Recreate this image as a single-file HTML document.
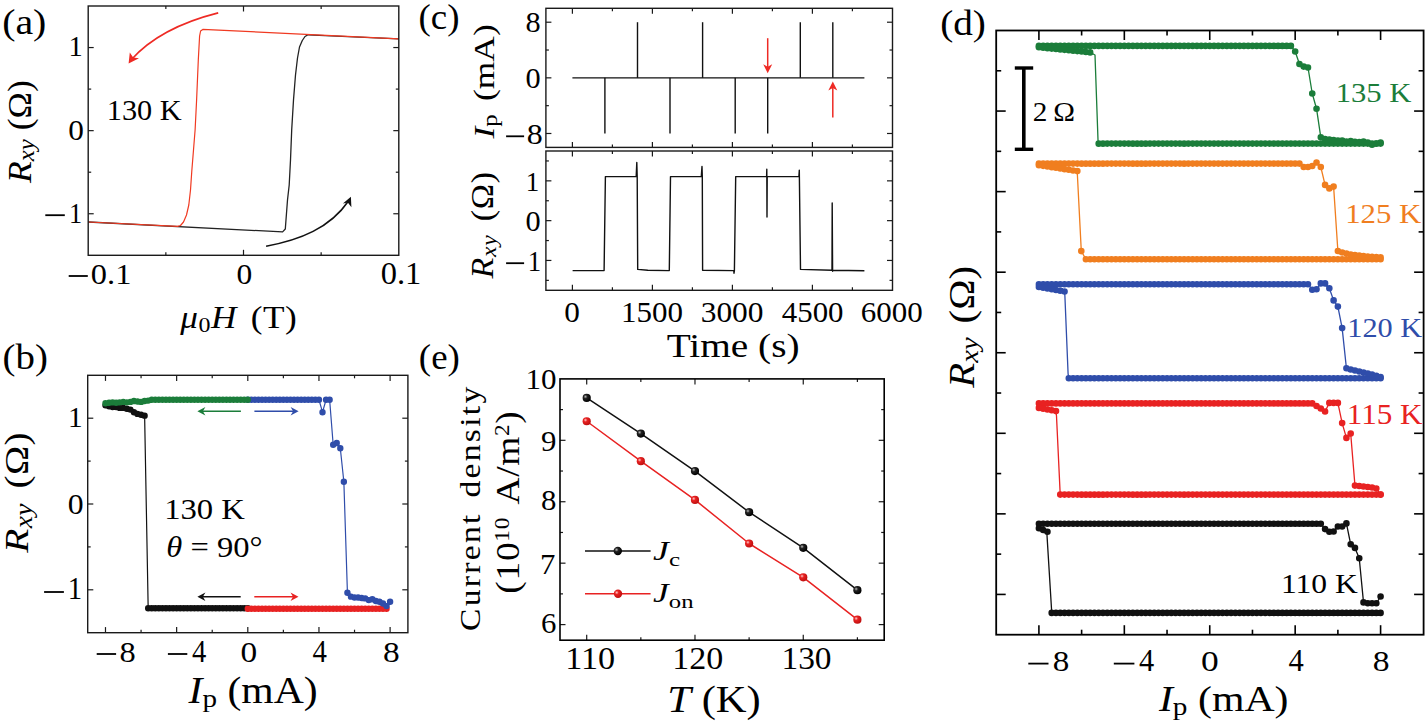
<!DOCTYPE html>
<html><head><meta charset="utf-8"><style>html,body{margin:0;padding:0;background:#fff;}svg{display:block;}</style></head>
<body>
<svg width="1425" height="727" viewBox="0 0 1425 727" font-family='"Liberation Serif", serif'>
<rect width="1425" height="727" fill="#fff"/>
<line x1="165.85" y1="255.3" x2="165.85" y2="252.3" stroke="#1a1a1a" stroke-width="1.2" />
<line x1="165.85" y1="6" x2="165.85" y2="9" stroke="#1a1a1a" stroke-width="1.2" />
<line x1="321.15" y1="255.3" x2="321.15" y2="252.3" stroke="#1a1a1a" stroke-width="1.2" />
<line x1="321.15" y1="6" x2="321.15" y2="9" stroke="#1a1a1a" stroke-width="1.2" />
<line x1="243.5" y1="255.3" x2="243.5" y2="249.8" stroke="#1a1a1a" stroke-width="1.2" />
<line x1="243.5" y1="6" x2="243.5" y2="11.5" stroke="#1a1a1a" stroke-width="1.2" />
<line x1="88.2" y1="213.75" x2="93.7" y2="213.75" stroke="#1a1a1a" stroke-width="1.2" />
<line x1="398.8" y1="213.75" x2="393.3" y2="213.75" stroke="#1a1a1a" stroke-width="1.2" />
<line x1="88.2" y1="130.65" x2="93.7" y2="130.65" stroke="#1a1a1a" stroke-width="1.2" />
<line x1="398.8" y1="130.65" x2="393.3" y2="130.65" stroke="#1a1a1a" stroke-width="1.2" />
<line x1="88.2" y1="47.55" x2="93.7" y2="47.55" stroke="#1a1a1a" stroke-width="1.2" />
<line x1="398.8" y1="47.55" x2="393.3" y2="47.55" stroke="#1a1a1a" stroke-width="1.2" />
<line x1="88.2" y1="172.2" x2="91.2" y2="172.2" stroke="#1a1a1a" stroke-width="1.2" />
<line x1="398.8" y1="172.2" x2="395.8" y2="172.2" stroke="#1a1a1a" stroke-width="1.2" />
<line x1="88.2" y1="89.1" x2="91.2" y2="89.1" stroke="#1a1a1a" stroke-width="1.2" />
<line x1="398.8" y1="89.1" x2="395.8" y2="89.1" stroke="#1a1a1a" stroke-width="1.2" />
<polyline points="88.4,222 282.6,231.9 285.3,229 287.5,200 289.2,185 290.5,160 291.7,130 293.5,100 295.5,75 297.5,58 299.5,47 302.3,40.5 305,36.5 308,34.8 398.9,38.8" fill="none" stroke="#222" stroke-width="1.3" stroke-linejoin="round" />
<polyline points="398.9,38.8 202.8,29.4 200.6,31 199.6,36 198.3,60 196.6,100 195.1,130 193.5,150 191.8,171 190.5,190 188.8,205 186.5,215 183.5,222 180.5,225.5 177.5,226.3 88.4,222" fill="none" stroke="#f03a22" stroke-width="1.2" stroke-linejoin="round" />
<path d="M218.2,12.9 C190,20 155,33 131,60" fill="none" stroke="#ee2a24" stroke-width="1.6"/>
<path d="M128.6,63.6 L129.8,52.6 L133.2,57.6 L139.0,58.2 Z" fill="#ee2a24"/>
<path d="M266.1,246.2 C300,240 330,228 348.5,201" fill="none" stroke="#111" stroke-width="1.6"/>
<path d="M350.9,196.8 L351.4,207.2 L347.8,202.6 L342.9,203.4 Z" fill="#111"/>
<rect x="88.2" y="6" width="310.6" height="249.3" fill="none" stroke="#1a1a1a" stroke-width="1.4"/>
<g transform="matrix(1.1378,0,0,1.0438,2.16,34.39)"><text x="0" y="0" font-size="35" fill="#000" >(a)</text></g>
<g transform="matrix(1.0182,0,0,1.0333,68.56,56.20)"><text x="0" y="0" font-size="28" fill="#000" >1</text></g>
<g transform="matrix(1.1167,0,0,1.0444,68.18,139.50)"><text x="0" y="0" font-size="28" fill="#000" >0</text></g>
<g transform="matrix(0.9364,0,0,1.0444,68.93,222.70)"><text x="0" y="0" font-size="28" fill="#000" >1</text></g>
<rect x="45.3" y="214.3" width="19.5" height="1.8" fill="#000"/>
<g transform="matrix(1.1576,0,0,1.0722,90.84,283.50)"><text x="0" y="0" font-size="28" fill="#000" >0.1</text></g>
<rect x="68.7" y="275.1" width="19.1" height="1.8" fill="#000"/>
<g transform="matrix(1.1250,0,0,1.0889,236.38,283.50)"><text x="0" y="0" font-size="28" fill="#000" >0</text></g>
<g transform="matrix(1.1606,0,0,1.1111,380.64,283.90)"><text x="0" y="0" font-size="28" fill="#000" >0.1</text></g>
<g transform="matrix(1.0282,0,0,1.0158,106.74,119.80)"><text x="0" y="0" font-size="29.5" fill="#000" >130 K</text></g>
<g transform="matrix(1.1363,0,0,1.0000,180.30,327.70)"><text x="0" y="0" font-size="31" fill="#000" word-spacing="3.72" letter-spacing="0.49"><tspan font-style="italic">μ</tspan><tspan font-size="21.1" dy="4.65">0</tspan><tspan dy="-4.65"><tspan font-style="italic">H</tspan> (T)</tspan></text></g>
<g transform="matrix(1.0964,0,0,1.1860,30.63,183.00)"><text x="0" y="0" font-size="30" fill="#000" transform="rotate(-90)" ><tspan font-style="italic">R</tspan><tspan font-size="21.0" dy="3.30" font-style="italic">xy</tspan><tspan dy="-3.30"> (Ω)</tspan></text></g>
<line x1="105.49" y1="632.7" x2="105.49" y2="627.1" stroke="#1a1a1a" stroke-width="1.2" />
<line x1="105.49" y1="375.3" x2="105.49" y2="380.9" stroke="#1a1a1a" stroke-width="1.2" />
<line x1="176.64" y1="632.7" x2="176.64" y2="627.1" stroke="#1a1a1a" stroke-width="1.2" />
<line x1="176.64" y1="375.3" x2="176.64" y2="380.9" stroke="#1a1a1a" stroke-width="1.2" />
<line x1="247.8" y1="632.7" x2="247.8" y2="627.1" stroke="#1a1a1a" stroke-width="1.2" />
<line x1="247.8" y1="375.3" x2="247.8" y2="380.9" stroke="#1a1a1a" stroke-width="1.2" />
<line x1="318.96" y1="632.7" x2="318.96" y2="627.1" stroke="#1a1a1a" stroke-width="1.2" />
<line x1="318.96" y1="375.3" x2="318.96" y2="380.9" stroke="#1a1a1a" stroke-width="1.2" />
<line x1="390.11" y1="632.7" x2="390.11" y2="627.1" stroke="#1a1a1a" stroke-width="1.2" />
<line x1="390.11" y1="375.3" x2="390.11" y2="380.9" stroke="#1a1a1a" stroke-width="1.2" />
<line x1="141.07" y1="632.7" x2="141.07" y2="629.7" stroke="#1a1a1a" stroke-width="1.2" />
<line x1="141.07" y1="375.3" x2="141.07" y2="378.3" stroke="#1a1a1a" stroke-width="1.2" />
<line x1="212.22" y1="632.7" x2="212.22" y2="629.7" stroke="#1a1a1a" stroke-width="1.2" />
<line x1="212.22" y1="375.3" x2="212.22" y2="378.3" stroke="#1a1a1a" stroke-width="1.2" />
<line x1="283.38" y1="632.7" x2="283.38" y2="629.7" stroke="#1a1a1a" stroke-width="1.2" />
<line x1="283.38" y1="375.3" x2="283.38" y2="378.3" stroke="#1a1a1a" stroke-width="1.2" />
<line x1="354.53" y1="632.7" x2="354.53" y2="629.7" stroke="#1a1a1a" stroke-width="1.2" />
<line x1="354.53" y1="375.3" x2="354.53" y2="378.3" stroke="#1a1a1a" stroke-width="1.2" />
<line x1="87.7" y1="589.8" x2="93.3" y2="589.8" stroke="#1a1a1a" stroke-width="1.2" />
<line x1="407.9" y1="589.8" x2="402.3" y2="589.8" stroke="#1a1a1a" stroke-width="1.2" />
<line x1="87.7" y1="504" x2="93.3" y2="504" stroke="#1a1a1a" stroke-width="1.2" />
<line x1="407.9" y1="504" x2="402.3" y2="504" stroke="#1a1a1a" stroke-width="1.2" />
<line x1="87.7" y1="418.2" x2="93.3" y2="418.2" stroke="#1a1a1a" stroke-width="1.2" />
<line x1="407.9" y1="418.2" x2="402.3" y2="418.2" stroke="#1a1a1a" stroke-width="1.2" />
<line x1="87.7" y1="546.9" x2="90.7" y2="546.9" stroke="#1a1a1a" stroke-width="1.2" />
<line x1="407.9" y1="546.9" x2="404.9" y2="546.9" stroke="#1a1a1a" stroke-width="1.2" />
<line x1="87.7" y1="461.1" x2="90.7" y2="461.1" stroke="#1a1a1a" stroke-width="1.2" />
<line x1="407.9" y1="461.1" x2="404.9" y2="461.1" stroke="#1a1a1a" stroke-width="1.2" />
<polyline points="105.49,405.33 109.05,406.19 112.6,407.05 116.16,407.05 119.72,407.9 123.28,407.9 126.84,408.76 130.39,409.62 133.95,412.19 137.51,413.91 141.07,414.77 144.62,415.63 148.18,608.25 151.74,608.25 155.3,608.25 158.86,608.25 162.41,608.25 165.97,608.25 169.53,608.25 173.09,608.25 176.64,608.25 180.2,608.25 183.76,608.25 187.32,608.25 190.88,608.25 194.43,608.25 197.99,608.25 201.55,608.25 205.11,608.25 208.66,608.25 212.22,608.25 215.78,608.25 219.34,608.25 222.9,608.25 226.45,608.25 230.01,608.25 233.57,608.25 237.13,608.25 240.68,608.25 244.24,608.25 247.8,608.25" fill="none" stroke="#111" stroke-width="1.2" stroke-linejoin="round" />
<polyline points="247.8,399.75 251.36,399.75 254.92,399.75 258.47,399.75 262.03,399.75 265.59,399.75 269.15,399.75 272.7,399.75 276.26,399.75 279.82,399.75 283.38,399.75 286.94,399.75 290.49,399.75 294.05,399.75 297.61,399.75 301.17,399.75 304.72,399.75 308.28,399.75 311.84,399.75 315.4,399.75 318.96,399.75 322.51,412.19 326.07,399.75 329.63,399.75 333.19,444.8 336.74,443.08 340.3,448.23 343.86,481.69 347.42,592.8 350.98,596.66 354.53,597.52 358.09,597.52 361.65,597.95 365.21,598.38 368.76,600.1 372.32,599.24 375.88,600.95 379.44,601.81 383,603.53 386.55,606.1 390.11,601.81" fill="none" stroke="#2f4daa" stroke-width="1.2" stroke-linejoin="round" />
<path d="M144.98,608.25a3.2,3.2 0 1,0 6.4,0a3.2,3.2 0 1,0 -6.4,0M148.54,608.25a3.2,3.2 0 1,0 6.4,0a3.2,3.2 0 1,0 -6.4,0M152.1,608.25a3.2,3.2 0 1,0 6.4,0a3.2,3.2 0 1,0 -6.4,0M155.66,608.25a3.2,3.2 0 1,0 6.4,0a3.2,3.2 0 1,0 -6.4,0M159.21,608.25a3.2,3.2 0 1,0 6.4,0a3.2,3.2 0 1,0 -6.4,0M162.77,608.25a3.2,3.2 0 1,0 6.4,0a3.2,3.2 0 1,0 -6.4,0M166.33,608.25a3.2,3.2 0 1,0 6.4,0a3.2,3.2 0 1,0 -6.4,0M169.89,608.25a3.2,3.2 0 1,0 6.4,0a3.2,3.2 0 1,0 -6.4,0M173.44,608.25a3.2,3.2 0 1,0 6.4,0a3.2,3.2 0 1,0 -6.4,0M177,608.25a3.2,3.2 0 1,0 6.4,0a3.2,3.2 0 1,0 -6.4,0M180.56,608.25a3.2,3.2 0 1,0 6.4,0a3.2,3.2 0 1,0 -6.4,0M184.12,608.25a3.2,3.2 0 1,0 6.4,0a3.2,3.2 0 1,0 -6.4,0M187.68,608.25a3.2,3.2 0 1,0 6.4,0a3.2,3.2 0 1,0 -6.4,0M191.23,608.25a3.2,3.2 0 1,0 6.4,0a3.2,3.2 0 1,0 -6.4,0M194.79,608.25a3.2,3.2 0 1,0 6.4,0a3.2,3.2 0 1,0 -6.4,0M198.35,608.25a3.2,3.2 0 1,0 6.4,0a3.2,3.2 0 1,0 -6.4,0M201.91,608.25a3.2,3.2 0 1,0 6.4,0a3.2,3.2 0 1,0 -6.4,0M205.46,608.25a3.2,3.2 0 1,0 6.4,0a3.2,3.2 0 1,0 -6.4,0M209.02,608.25a3.2,3.2 0 1,0 6.4,0a3.2,3.2 0 1,0 -6.4,0M212.58,608.25a3.2,3.2 0 1,0 6.4,0a3.2,3.2 0 1,0 -6.4,0M216.14,608.25a3.2,3.2 0 1,0 6.4,0a3.2,3.2 0 1,0 -6.4,0M219.7,608.25a3.2,3.2 0 1,0 6.4,0a3.2,3.2 0 1,0 -6.4,0M223.25,608.25a3.2,3.2 0 1,0 6.4,0a3.2,3.2 0 1,0 -6.4,0M226.81,608.25a3.2,3.2 0 1,0 6.4,0a3.2,3.2 0 1,0 -6.4,0M230.37,608.25a3.2,3.2 0 1,0 6.4,0a3.2,3.2 0 1,0 -6.4,0M233.93,608.25a3.2,3.2 0 1,0 6.4,0a3.2,3.2 0 1,0 -6.4,0M237.48,608.25a3.2,3.2 0 1,0 6.4,0a3.2,3.2 0 1,0 -6.4,0M241.04,608.25a3.2,3.2 0 1,0 6.4,0a3.2,3.2 0 1,0 -6.4,0M244.6,608.25a3.2,3.2 0 1,0 6.4,0a3.2,3.2 0 1,0 -6.4,0" fill="#111"/>
<path d="M244.6,608.68a3.2,3.2 0 1,0 6.4,0a3.2,3.2 0 1,0 -6.4,0M248.16,608.68a3.2,3.2 0 1,0 6.4,0a3.2,3.2 0 1,0 -6.4,0M251.72,608.68a3.2,3.2 0 1,0 6.4,0a3.2,3.2 0 1,0 -6.4,0M255.27,608.68a3.2,3.2 0 1,0 6.4,0a3.2,3.2 0 1,0 -6.4,0M258.83,608.68a3.2,3.2 0 1,0 6.4,0a3.2,3.2 0 1,0 -6.4,0M262.39,608.68a3.2,3.2 0 1,0 6.4,0a3.2,3.2 0 1,0 -6.4,0M265.95,608.68a3.2,3.2 0 1,0 6.4,0a3.2,3.2 0 1,0 -6.4,0M269.5,608.68a3.2,3.2 0 1,0 6.4,0a3.2,3.2 0 1,0 -6.4,0M273.06,608.68a3.2,3.2 0 1,0 6.4,0a3.2,3.2 0 1,0 -6.4,0M276.62,608.68a3.2,3.2 0 1,0 6.4,0a3.2,3.2 0 1,0 -6.4,0M280.18,608.68a3.2,3.2 0 1,0 6.4,0a3.2,3.2 0 1,0 -6.4,0M283.74,608.68a3.2,3.2 0 1,0 6.4,0a3.2,3.2 0 1,0 -6.4,0M287.29,608.68a3.2,3.2 0 1,0 6.4,0a3.2,3.2 0 1,0 -6.4,0M290.85,608.68a3.2,3.2 0 1,0 6.4,0a3.2,3.2 0 1,0 -6.4,0M294.41,608.68a3.2,3.2 0 1,0 6.4,0a3.2,3.2 0 1,0 -6.4,0M297.97,608.68a3.2,3.2 0 1,0 6.4,0a3.2,3.2 0 1,0 -6.4,0M301.52,608.68a3.2,3.2 0 1,0 6.4,0a3.2,3.2 0 1,0 -6.4,0M305.08,608.68a3.2,3.2 0 1,0 6.4,0a3.2,3.2 0 1,0 -6.4,0M308.64,608.68a3.2,3.2 0 1,0 6.4,0a3.2,3.2 0 1,0 -6.4,0M312.2,608.68a3.2,3.2 0 1,0 6.4,0a3.2,3.2 0 1,0 -6.4,0M315.76,608.68a3.2,3.2 0 1,0 6.4,0a3.2,3.2 0 1,0 -6.4,0M319.31,608.68a3.2,3.2 0 1,0 6.4,0a3.2,3.2 0 1,0 -6.4,0M322.87,608.68a3.2,3.2 0 1,0 6.4,0a3.2,3.2 0 1,0 -6.4,0M326.43,608.68a3.2,3.2 0 1,0 6.4,0a3.2,3.2 0 1,0 -6.4,0M329.99,608.68a3.2,3.2 0 1,0 6.4,0a3.2,3.2 0 1,0 -6.4,0M333.54,608.68a3.2,3.2 0 1,0 6.4,0a3.2,3.2 0 1,0 -6.4,0M337.1,608.68a3.2,3.2 0 1,0 6.4,0a3.2,3.2 0 1,0 -6.4,0M340.66,608.68a3.2,3.2 0 1,0 6.4,0a3.2,3.2 0 1,0 -6.4,0M344.22,608.68a3.2,3.2 0 1,0 6.4,0a3.2,3.2 0 1,0 -6.4,0M347.78,608.68a3.2,3.2 0 1,0 6.4,0a3.2,3.2 0 1,0 -6.4,0M351.33,608.68a3.2,3.2 0 1,0 6.4,0a3.2,3.2 0 1,0 -6.4,0M354.89,608.68a3.2,3.2 0 1,0 6.4,0a3.2,3.2 0 1,0 -6.4,0M358.45,608.68a3.2,3.2 0 1,0 6.4,0a3.2,3.2 0 1,0 -6.4,0M362.01,608.68a3.2,3.2 0 1,0 6.4,0a3.2,3.2 0 1,0 -6.4,0M365.56,608.68a3.2,3.2 0 1,0 6.4,0a3.2,3.2 0 1,0 -6.4,0M369.12,608.68a3.2,3.2 0 1,0 6.4,0a3.2,3.2 0 1,0 -6.4,0M372.68,608.68a3.2,3.2 0 1,0 6.4,0a3.2,3.2 0 1,0 -6.4,0M376.24,608.68a3.2,3.2 0 1,0 6.4,0a3.2,3.2 0 1,0 -6.4,0M379.8,608.68a3.2,3.2 0 1,0 6.4,0a3.2,3.2 0 1,0 -6.4,0M383.35,608.68a3.2,3.2 0 1,0 6.4,0a3.2,3.2 0 1,0 -6.4,0" fill="#e82222"/>
<path d="M102.29,405.33a3.2,3.2 0 1,0 6.4,0a3.2,3.2 0 1,0 -6.4,0M105.85,406.19a3.2,3.2 0 1,0 6.4,0a3.2,3.2 0 1,0 -6.4,0M109.4,407.05a3.2,3.2 0 1,0 6.4,0a3.2,3.2 0 1,0 -6.4,0M112.96,407.05a3.2,3.2 0 1,0 6.4,0a3.2,3.2 0 1,0 -6.4,0M116.52,407.9a3.2,3.2 0 1,0 6.4,0a3.2,3.2 0 1,0 -6.4,0M120.08,407.9a3.2,3.2 0 1,0 6.4,0a3.2,3.2 0 1,0 -6.4,0M123.64,408.76a3.2,3.2 0 1,0 6.4,0a3.2,3.2 0 1,0 -6.4,0M127.19,409.62a3.2,3.2 0 1,0 6.4,0a3.2,3.2 0 1,0 -6.4,0M130.75,412.19a3.2,3.2 0 1,0 6.4,0a3.2,3.2 0 1,0 -6.4,0M134.31,413.91a3.2,3.2 0 1,0 6.4,0a3.2,3.2 0 1,0 -6.4,0M137.87,414.77a3.2,3.2 0 1,0 6.4,0a3.2,3.2 0 1,0 -6.4,0M141.42,415.63a3.2,3.2 0 1,0 6.4,0a3.2,3.2 0 1,0 -6.4,0" fill="#111"/>
<path d="M244.6,399.75a3.2,3.2 0 1,0 6.4,0a3.2,3.2 0 1,0 -6.4,0M248.16,399.75a3.2,3.2 0 1,0 6.4,0a3.2,3.2 0 1,0 -6.4,0M251.72,399.75a3.2,3.2 0 1,0 6.4,0a3.2,3.2 0 1,0 -6.4,0M255.27,399.75a3.2,3.2 0 1,0 6.4,0a3.2,3.2 0 1,0 -6.4,0M258.83,399.75a3.2,3.2 0 1,0 6.4,0a3.2,3.2 0 1,0 -6.4,0M262.39,399.75a3.2,3.2 0 1,0 6.4,0a3.2,3.2 0 1,0 -6.4,0M265.95,399.75a3.2,3.2 0 1,0 6.4,0a3.2,3.2 0 1,0 -6.4,0M269.5,399.75a3.2,3.2 0 1,0 6.4,0a3.2,3.2 0 1,0 -6.4,0M273.06,399.75a3.2,3.2 0 1,0 6.4,0a3.2,3.2 0 1,0 -6.4,0M276.62,399.75a3.2,3.2 0 1,0 6.4,0a3.2,3.2 0 1,0 -6.4,0M280.18,399.75a3.2,3.2 0 1,0 6.4,0a3.2,3.2 0 1,0 -6.4,0M283.74,399.75a3.2,3.2 0 1,0 6.4,0a3.2,3.2 0 1,0 -6.4,0M287.29,399.75a3.2,3.2 0 1,0 6.4,0a3.2,3.2 0 1,0 -6.4,0M290.85,399.75a3.2,3.2 0 1,0 6.4,0a3.2,3.2 0 1,0 -6.4,0M294.41,399.75a3.2,3.2 0 1,0 6.4,0a3.2,3.2 0 1,0 -6.4,0M297.97,399.75a3.2,3.2 0 1,0 6.4,0a3.2,3.2 0 1,0 -6.4,0M301.52,399.75a3.2,3.2 0 1,0 6.4,0a3.2,3.2 0 1,0 -6.4,0M305.08,399.75a3.2,3.2 0 1,0 6.4,0a3.2,3.2 0 1,0 -6.4,0M308.64,399.75a3.2,3.2 0 1,0 6.4,0a3.2,3.2 0 1,0 -6.4,0M312.2,399.75a3.2,3.2 0 1,0 6.4,0a3.2,3.2 0 1,0 -6.4,0M315.76,399.75a3.2,3.2 0 1,0 6.4,0a3.2,3.2 0 1,0 -6.4,0M319.31,412.19a3.2,3.2 0 1,0 6.4,0a3.2,3.2 0 1,0 -6.4,0M322.87,399.75a3.2,3.2 0 1,0 6.4,0a3.2,3.2 0 1,0 -6.4,0M326.43,399.75a3.2,3.2 0 1,0 6.4,0a3.2,3.2 0 1,0 -6.4,0M329.99,444.8a3.2,3.2 0 1,0 6.4,0a3.2,3.2 0 1,0 -6.4,0M333.54,443.08a3.2,3.2 0 1,0 6.4,0a3.2,3.2 0 1,0 -6.4,0M337.1,448.23a3.2,3.2 0 1,0 6.4,0a3.2,3.2 0 1,0 -6.4,0M340.66,481.69a3.2,3.2 0 1,0 6.4,0a3.2,3.2 0 1,0 -6.4,0M344.22,592.8a3.2,3.2 0 1,0 6.4,0a3.2,3.2 0 1,0 -6.4,0M347.78,596.66a3.2,3.2 0 1,0 6.4,0a3.2,3.2 0 1,0 -6.4,0M351.33,597.52a3.2,3.2 0 1,0 6.4,0a3.2,3.2 0 1,0 -6.4,0M354.89,597.52a3.2,3.2 0 1,0 6.4,0a3.2,3.2 0 1,0 -6.4,0M358.45,597.95a3.2,3.2 0 1,0 6.4,0a3.2,3.2 0 1,0 -6.4,0M362.01,598.38a3.2,3.2 0 1,0 6.4,0a3.2,3.2 0 1,0 -6.4,0M365.56,600.1a3.2,3.2 0 1,0 6.4,0a3.2,3.2 0 1,0 -6.4,0M369.12,599.24a3.2,3.2 0 1,0 6.4,0a3.2,3.2 0 1,0 -6.4,0M372.68,600.95a3.2,3.2 0 1,0 6.4,0a3.2,3.2 0 1,0 -6.4,0M376.24,601.81a3.2,3.2 0 1,0 6.4,0a3.2,3.2 0 1,0 -6.4,0M379.8,603.53a3.2,3.2 0 1,0 6.4,0a3.2,3.2 0 1,0 -6.4,0M383.35,606.1a3.2,3.2 0 1,0 6.4,0a3.2,3.2 0 1,0 -6.4,0M386.91,601.81a3.2,3.2 0 1,0 6.4,0a3.2,3.2 0 1,0 -6.4,0" fill="#2f4daa"/>
<path d="M102.29,403.19a3.2,3.2 0 1,0 6.4,0a3.2,3.2 0 1,0 -6.4,0M105.85,402.76a3.2,3.2 0 1,0 6.4,0a3.2,3.2 0 1,0 -6.4,0M109.4,402.33a3.2,3.2 0 1,0 6.4,0a3.2,3.2 0 1,0 -6.4,0M112.96,402.76a3.2,3.2 0 1,0 6.4,0a3.2,3.2 0 1,0 -6.4,0M116.52,402.33a3.2,3.2 0 1,0 6.4,0a3.2,3.2 0 1,0 -6.4,0M120.08,401.9a3.2,3.2 0 1,0 6.4,0a3.2,3.2 0 1,0 -6.4,0M123.64,402.33a3.2,3.2 0 1,0 6.4,0a3.2,3.2 0 1,0 -6.4,0M127.19,401.9a3.2,3.2 0 1,0 6.4,0a3.2,3.2 0 1,0 -6.4,0M130.75,401.04a3.2,3.2 0 1,0 6.4,0a3.2,3.2 0 1,0 -6.4,0M134.31,401.47a3.2,3.2 0 1,0 6.4,0a3.2,3.2 0 1,0 -6.4,0M137.87,401.9a3.2,3.2 0 1,0 6.4,0a3.2,3.2 0 1,0 -6.4,0M141.42,401.04a3.2,3.2 0 1,0 6.4,0a3.2,3.2 0 1,0 -6.4,0M144.98,400.61a3.2,3.2 0 1,0 6.4,0a3.2,3.2 0 1,0 -6.4,0M148.54,399.75a3.2,3.2 0 1,0 6.4,0a3.2,3.2 0 1,0 -6.4,0M152.1,399.75a3.2,3.2 0 1,0 6.4,0a3.2,3.2 0 1,0 -6.4,0M155.66,399.75a3.2,3.2 0 1,0 6.4,0a3.2,3.2 0 1,0 -6.4,0M159.21,399.75a3.2,3.2 0 1,0 6.4,0a3.2,3.2 0 1,0 -6.4,0M162.77,399.75a3.2,3.2 0 1,0 6.4,0a3.2,3.2 0 1,0 -6.4,0M166.33,399.75a3.2,3.2 0 1,0 6.4,0a3.2,3.2 0 1,0 -6.4,0M169.89,399.75a3.2,3.2 0 1,0 6.4,0a3.2,3.2 0 1,0 -6.4,0M173.44,399.75a3.2,3.2 0 1,0 6.4,0a3.2,3.2 0 1,0 -6.4,0M177,399.75a3.2,3.2 0 1,0 6.4,0a3.2,3.2 0 1,0 -6.4,0M180.56,399.75a3.2,3.2 0 1,0 6.4,0a3.2,3.2 0 1,0 -6.4,0M184.12,399.75a3.2,3.2 0 1,0 6.4,0a3.2,3.2 0 1,0 -6.4,0M187.68,399.75a3.2,3.2 0 1,0 6.4,0a3.2,3.2 0 1,0 -6.4,0M191.23,399.75a3.2,3.2 0 1,0 6.4,0a3.2,3.2 0 1,0 -6.4,0M194.79,399.75a3.2,3.2 0 1,0 6.4,0a3.2,3.2 0 1,0 -6.4,0M198.35,399.75a3.2,3.2 0 1,0 6.4,0a3.2,3.2 0 1,0 -6.4,0M201.91,399.75a3.2,3.2 0 1,0 6.4,0a3.2,3.2 0 1,0 -6.4,0M205.46,399.75a3.2,3.2 0 1,0 6.4,0a3.2,3.2 0 1,0 -6.4,0M209.02,399.75a3.2,3.2 0 1,0 6.4,0a3.2,3.2 0 1,0 -6.4,0M212.58,399.75a3.2,3.2 0 1,0 6.4,0a3.2,3.2 0 1,0 -6.4,0M216.14,399.75a3.2,3.2 0 1,0 6.4,0a3.2,3.2 0 1,0 -6.4,0M219.7,399.75a3.2,3.2 0 1,0 6.4,0a3.2,3.2 0 1,0 -6.4,0M223.25,399.75a3.2,3.2 0 1,0 6.4,0a3.2,3.2 0 1,0 -6.4,0M226.81,399.75a3.2,3.2 0 1,0 6.4,0a3.2,3.2 0 1,0 -6.4,0M230.37,399.75a3.2,3.2 0 1,0 6.4,0a3.2,3.2 0 1,0 -6.4,0M233.93,399.75a3.2,3.2 0 1,0 6.4,0a3.2,3.2 0 1,0 -6.4,0M237.48,399.75a3.2,3.2 0 1,0 6.4,0a3.2,3.2 0 1,0 -6.4,0M241.04,399.75a3.2,3.2 0 1,0 6.4,0a3.2,3.2 0 1,0 -6.4,0M244.6,399.75a3.2,3.2 0 1,0 6.4,0a3.2,3.2 0 1,0 -6.4,0" fill="#1b7d3a"/>
<line x1="240.9" y1="411.3" x2="202.4" y2="411.3" stroke="#1b7d3a" stroke-width="1.4" />
<path d="M197.4,411.3 L205.4,407.1 L202.9,411.3 L205.4,415.5 Z" fill="#1b7d3a"/>
<line x1="254.4" y1="411.3" x2="293.6" y2="411.3" stroke="#2f4daa" stroke-width="1.4" />
<path d="M298.6,411.3 L290.6,407.1 L293.1,411.3 L290.6,415.5 Z" fill="#2f4daa"/>
<line x1="240.7" y1="596.8" x2="202.4" y2="596.8" stroke="#111" stroke-width="1.4" />
<path d="M197.4,596.8 L205.4,592.6 L202.9,596.8 L205.4,601 Z" fill="#111"/>
<line x1="254.3" y1="596.8" x2="293.5" y2="596.8" stroke="#e82222" stroke-width="1.4" />
<path d="M298.5,596.8 L290.5,592.6 L293,596.8 L290.5,601 Z" fill="#e82222"/>
<rect x="87.7" y="375.3" width="320.2" height="257.4" fill="none" stroke="#1a1a1a" stroke-width="1.4"/>
<g transform="matrix(1.1103,0,0,1.0000,2.59,368.80)"><text x="0" y="0" font-size="35" fill="#000" >(b)</text></g>
<g transform="matrix(1.0455,0,0,1.0722,67.91,427.00)"><text x="0" y="0" font-size="28" fill="#000" >1</text></g>
<g transform="matrix(1.1333,0,0,1.0556,67.67,513.50)"><text x="0" y="0" font-size="28" fill="#000" >0</text></g>
<g transform="matrix(1.0273,0,0,1.1000,67.65,598.90)"><text x="0" y="0" font-size="28" fill="#000" >1</text></g>
<rect x="44.1" y="591.1" width="19.8" height="1.8" fill="#000"/>
<g transform="matrix(1.1583,0,0,1.0500,119.54,661.90)"><text x="0" y="0" font-size="28" fill="#000" >8</text></g>
<rect x="96.7" y="653.1" width="19.4" height="1.8" fill="#000"/>
<g transform="matrix(1.0214,0,0,1.1444,191.90,661.90)"><text x="0" y="0" font-size="28" fill="#000" >4</text></g>
<rect x="167.9" y="653.1" width="19.4" height="1.8" fill="#000"/>
<g transform="matrix(1.1917,0,0,1.0500,240.61,661.90)"><text x="0" y="0" font-size="28" fill="#000" >0</text></g>
<g transform="matrix(1.0286,0,0,1.1444,312.60,661.90)"><text x="0" y="0" font-size="28" fill="#000" >4</text></g>
<g transform="matrix(1.1917,0,0,1.0500,383.01,661.90)"><text x="0" y="0" font-size="28" fill="#000" >8</text></g>
<g transform="matrix(1.0541,0,0,0.9714,164.14,519.10)"><text x="0" y="0" font-size="31" fill="#000" >130 K</text></g>
<g transform="matrix(1.0506,0,0,0.9273,166.25,556.80)"><text x="0" y="0" font-size="31" fill="#000" ><tspan font-style="italic">θ</tspan> = 90°</text></g>
<g transform="matrix(1.2260,0,0,1.0875,188.50,702.91)"><text x="0" y="0" font-size="34" fill="#000" ><tspan font-style="italic">I</tspan><tspan font-size="23.8" dy="3.74">p</tspan><tspan dy="-3.74"> (mA)</tspan></text></g>
<g transform="matrix(1.0485,0,0,1.1920,28.06,552.70)"><text x="0" y="0" font-size="33" fill="#000" transform="rotate(-90)" word-spacing="3.96" letter-spacing="0.27"><tspan font-style="italic">R</tspan><tspan font-size="23.1" dy="3.63" font-style="italic">xy</tspan><tspan dy="-3.63"> (Ω)</tspan></text></g>
<line x1="572.4" y1="147.4" x2="572.4" y2="141.9" stroke="#1a1a1a" stroke-width="1.2" />
<line x1="572.4" y1="8.3" x2="572.4" y2="13.8" stroke="#1a1a1a" stroke-width="1.2" />
<line x1="652.4" y1="147.4" x2="652.4" y2="141.9" stroke="#1a1a1a" stroke-width="1.2" />
<line x1="652.4" y1="8.3" x2="652.4" y2="13.8" stroke="#1a1a1a" stroke-width="1.2" />
<line x1="732.4" y1="147.4" x2="732.4" y2="141.9" stroke="#1a1a1a" stroke-width="1.2" />
<line x1="732.4" y1="8.3" x2="732.4" y2="13.8" stroke="#1a1a1a" stroke-width="1.2" />
<line x1="812.4" y1="147.4" x2="812.4" y2="141.9" stroke="#1a1a1a" stroke-width="1.2" />
<line x1="812.4" y1="8.3" x2="812.4" y2="13.8" stroke="#1a1a1a" stroke-width="1.2" />
<line x1="612.4" y1="147.4" x2="612.4" y2="144.4" stroke="#1a1a1a" stroke-width="1.2" />
<line x1="612.4" y1="8.3" x2="612.4" y2="11.3" stroke="#1a1a1a" stroke-width="1.2" />
<line x1="692.4" y1="147.4" x2="692.4" y2="144.4" stroke="#1a1a1a" stroke-width="1.2" />
<line x1="692.4" y1="8.3" x2="692.4" y2="11.3" stroke="#1a1a1a" stroke-width="1.2" />
<line x1="772.4" y1="147.4" x2="772.4" y2="144.4" stroke="#1a1a1a" stroke-width="1.2" />
<line x1="772.4" y1="8.3" x2="772.4" y2="11.3" stroke="#1a1a1a" stroke-width="1.2" />
<line x1="852.4" y1="147.4" x2="852.4" y2="144.4" stroke="#1a1a1a" stroke-width="1.2" />
<line x1="852.4" y1="8.3" x2="852.4" y2="11.3" stroke="#1a1a1a" stroke-width="1.2" />
<line x1="572.4" y1="290.3" x2="572.4" y2="284.8" stroke="#1a1a1a" stroke-width="1.2" />
<line x1="572.4" y1="151" x2="572.4" y2="156.5" stroke="#1a1a1a" stroke-width="1.2" />
<line x1="652.4" y1="290.3" x2="652.4" y2="284.8" stroke="#1a1a1a" stroke-width="1.2" />
<line x1="652.4" y1="151" x2="652.4" y2="156.5" stroke="#1a1a1a" stroke-width="1.2" />
<line x1="732.4" y1="290.3" x2="732.4" y2="284.8" stroke="#1a1a1a" stroke-width="1.2" />
<line x1="732.4" y1="151" x2="732.4" y2="156.5" stroke="#1a1a1a" stroke-width="1.2" />
<line x1="812.4" y1="290.3" x2="812.4" y2="284.8" stroke="#1a1a1a" stroke-width="1.2" />
<line x1="812.4" y1="151" x2="812.4" y2="156.5" stroke="#1a1a1a" stroke-width="1.2" />
<line x1="612.4" y1="290.3" x2="612.4" y2="287.3" stroke="#1a1a1a" stroke-width="1.2" />
<line x1="612.4" y1="151" x2="612.4" y2="154" stroke="#1a1a1a" stroke-width="1.2" />
<line x1="692.4" y1="290.3" x2="692.4" y2="287.3" stroke="#1a1a1a" stroke-width="1.2" />
<line x1="692.4" y1="151" x2="692.4" y2="154" stroke="#1a1a1a" stroke-width="1.2" />
<line x1="772.4" y1="290.3" x2="772.4" y2="287.3" stroke="#1a1a1a" stroke-width="1.2" />
<line x1="772.4" y1="151" x2="772.4" y2="154" stroke="#1a1a1a" stroke-width="1.2" />
<line x1="852.4" y1="290.3" x2="852.4" y2="287.3" stroke="#1a1a1a" stroke-width="1.2" />
<line x1="852.4" y1="151" x2="852.4" y2="154" stroke="#1a1a1a" stroke-width="1.2" />
<line x1="545.9" y1="133.49" x2="551.4" y2="133.49" stroke="#1a1a1a" stroke-width="1.2" />
<line x1="892.5" y1="133.49" x2="887" y2="133.49" stroke="#1a1a1a" stroke-width="1.2" />
<line x1="545.9" y1="77.85" x2="551.4" y2="77.85" stroke="#1a1a1a" stroke-width="1.2" />
<line x1="892.5" y1="77.85" x2="887" y2="77.85" stroke="#1a1a1a" stroke-width="1.2" />
<line x1="545.9" y1="22.21" x2="551.4" y2="22.21" stroke="#1a1a1a" stroke-width="1.2" />
<line x1="892.5" y1="22.21" x2="887" y2="22.21" stroke="#1a1a1a" stroke-width="1.2" />
<line x1="545.9" y1="105.67" x2="548.9" y2="105.67" stroke="#1a1a1a" stroke-width="1.2" />
<line x1="892.5" y1="105.67" x2="889.5" y2="105.67" stroke="#1a1a1a" stroke-width="1.2" />
<line x1="545.9" y1="50.03" x2="548.9" y2="50.03" stroke="#1a1a1a" stroke-width="1.2" />
<line x1="892.5" y1="50.03" x2="889.5" y2="50.03" stroke="#1a1a1a" stroke-width="1.2" />
<line x1="545.9" y1="260.45" x2="551.4" y2="260.45" stroke="#1a1a1a" stroke-width="1.2" />
<line x1="892.5" y1="260.45" x2="887" y2="260.45" stroke="#1a1a1a" stroke-width="1.2" />
<line x1="545.9" y1="220.65" x2="551.4" y2="220.65" stroke="#1a1a1a" stroke-width="1.2" />
<line x1="892.5" y1="220.65" x2="887" y2="220.65" stroke="#1a1a1a" stroke-width="1.2" />
<line x1="545.9" y1="180.85" x2="551.4" y2="180.85" stroke="#1a1a1a" stroke-width="1.2" />
<line x1="892.5" y1="180.85" x2="887" y2="180.85" stroke="#1a1a1a" stroke-width="1.2" />
<line x1="545.9" y1="280.35" x2="548.9" y2="280.35" stroke="#1a1a1a" stroke-width="1.2" />
<line x1="892.5" y1="280.35" x2="889.5" y2="280.35" stroke="#1a1a1a" stroke-width="1.2" />
<line x1="545.9" y1="240.55" x2="548.9" y2="240.55" stroke="#1a1a1a" stroke-width="1.2" />
<line x1="892.5" y1="240.55" x2="889.5" y2="240.55" stroke="#1a1a1a" stroke-width="1.2" />
<line x1="545.9" y1="200.75" x2="548.9" y2="200.75" stroke="#1a1a1a" stroke-width="1.2" />
<line x1="892.5" y1="200.75" x2="889.5" y2="200.75" stroke="#1a1a1a" stroke-width="1.2" />
<line x1="545.9" y1="160.95" x2="548.9" y2="160.95" stroke="#1a1a1a" stroke-width="1.2" />
<line x1="892.5" y1="160.95" x2="889.5" y2="160.95" stroke="#1a1a1a" stroke-width="1.2" />
<line x1="572.4" y1="77.85" x2="864.4" y2="77.85" stroke="#111" stroke-width="1.4" />
<line x1="604.9" y1="77.85" x2="604.9" y2="133.49" stroke="#111" stroke-width="1.4" />
<line x1="637.5" y1="77.85" x2="637.5" y2="22.21" stroke="#111" stroke-width="1.4" />
<line x1="670" y1="77.85" x2="670" y2="133.49" stroke="#111" stroke-width="1.4" />
<line x1="702.6" y1="77.85" x2="702.6" y2="22.21" stroke="#111" stroke-width="1.4" />
<line x1="735.2" y1="77.85" x2="735.2" y2="133.49" stroke="#111" stroke-width="1.4" />
<line x1="767.7" y1="77.85" x2="767.7" y2="133.49" stroke="#111" stroke-width="1.4" />
<line x1="800.3" y1="77.85" x2="800.3" y2="22.21" stroke="#111" stroke-width="1.4" />
<line x1="832.8" y1="77.85" x2="832.8" y2="22.21" stroke="#111" stroke-width="1.4" />
<line x1="767.7" y1="38.2" x2="767.7" y2="68.2" stroke="#ee2a24" stroke-width="1.5" />
<path d="M767.7,73.2 L763.2,64.2 L767.7,66.7 L772.2,64.2 Z" fill="#ee2a24"/>
<line x1="832.8" y1="117.4" x2="832.8" y2="86.4" stroke="#ee2a24" stroke-width="1.5" />
<path d="M832.8,81.4 L828.3,90.4 L832.8,87.9 L837.3,90.4 Z" fill="#ee2a24"/>
<polyline points="572.6,270.6 604.1,270.6 605.4,176.6 636.2,176.6 636.8,162.5 637.2,176.6 637.7,269.4 647.8,270.3 668.9,270.6 669.3,270.6 670.5,176.6 701.3,176.6 702,166.4 702.3,176.6 702.6,270.3 733.8,270.6 734,273.2 734.4,270.6 735.7,176.6 766.6,176.6 766.8,169.3 767,217 767.2,176.6 798.9,176.6 799.3,170.2 800.5,269.4 832,270.3 832.2,202.9 832.6,271.3 833,270.3 864.4,270.8" fill="none" stroke="#111" stroke-width="1.4" stroke-linejoin="round" />
<rect x="545.9" y="8.3" width="346.6" height="139.1" fill="none" stroke="#1a1a1a" stroke-width="1.4"/>
<rect x="545.9" y="151" width="346.6" height="139.3" fill="none" stroke="#1a1a1a" stroke-width="1.4"/>
<g transform="matrix(1.0541,0,0,1.0438,418.55,28.89)"><text x="0" y="0" font-size="35" fill="#000" >(c)</text></g>
<g transform="matrix(1.0833,0,0,1.0333,525.52,32.30)"><text x="0" y="0" font-size="28" fill="#000" >8</text></g>
<g transform="matrix(1.0833,0,0,1.0333,525.52,88.00)"><text x="0" y="0" font-size="28" fill="#000" >0</text></g>
<g transform="matrix(1.1417,0,0,1.0333,526.66,144.10)"><text x="0" y="0" font-size="28" fill="#000" >8</text></g>
<rect x="506.1" y="135.4" width="18" height="1.8" fill="#000"/>
<g transform="matrix(0.9636,0,0,1.0000,525.87,190.60)"><text x="0" y="0" font-size="28" fill="#000" >1</text></g>
<g transform="matrix(1.0833,0,0,1.0333,525.52,231.00)"><text x="0" y="0" font-size="28" fill="#000" >0</text></g>
<g transform="matrix(0.9545,0,0,1.0333,527.79,270.60)"><text x="0" y="0" font-size="28" fill="#000" >1</text></g>
<rect x="506.1" y="262.3" width="18" height="1.8" fill="#000"/>
<g transform="matrix(1.1167,0,0,1.0389,564.18,321.70)"><text x="0" y="0" font-size="28" fill="#000" >0</text></g>
<g transform="matrix(1.1075,0,0,1.0389,621.08,321.70)"><text x="0" y="0" font-size="28" fill="#000" >1500</text></g>
<g transform="matrix(1.1222,0,0,1.0722,700.68,321.90)"><text x="0" y="0" font-size="28" fill="#000" >3000</text></g>
<g transform="matrix(1.1018,0,0,1.0722,781.80,321.90)"><text x="0" y="0" font-size="28" fill="#000" >4500</text></g>
<g transform="matrix(1.1074,0,0,1.0722,860.69,321.90)"><text x="0" y="0" font-size="28" fill="#000" >6000</text></g>
<g transform="matrix(1.1918,0,0,1.0367,666.70,356.74)"><text x="0" y="0" font-size="33" fill="#000" >Time (s)</text></g>
<g transform="matrix(0.9030,0,0,1.0705,493.67,138.60)"><text x="0" y="0" font-size="33" fill="#000" transform="rotate(-90)" word-spacing="3.96" letter-spacing="0.10"><tspan font-style="italic">I</tspan><tspan font-size="23.1" dy="3.63">p</tspan><tspan dy="-3.63"> (mA)</tspan></text></g>
<g transform="matrix(0.9312,0,0,1.0294,493.02,278.50)"><text x="0" y="0" font-size="33" fill="#000" transform="rotate(-90)" word-spacing="3.96" letter-spacing="0.70"><tspan font-style="italic">R</tspan><tspan font-size="23.1" dy="3.63" font-style="italic">xy</tspan><tspan dy="-3.63"> (Ω)</tspan></text></g>
<line x1="586.7" y1="640.2" x2="586.7" y2="634.7" stroke="#1a1a1a" stroke-width="1.2" />
<line x1="586.7" y1="378.9" x2="586.7" y2="384.4" stroke="#1a1a1a" stroke-width="1.2" />
<line x1="694.98" y1="640.2" x2="694.98" y2="634.7" stroke="#1a1a1a" stroke-width="1.2" />
<line x1="694.98" y1="378.9" x2="694.98" y2="384.4" stroke="#1a1a1a" stroke-width="1.2" />
<line x1="803.26" y1="640.2" x2="803.26" y2="634.7" stroke="#1a1a1a" stroke-width="1.2" />
<line x1="803.26" y1="378.9" x2="803.26" y2="384.4" stroke="#1a1a1a" stroke-width="1.2" />
<line x1="640.84" y1="640.2" x2="640.84" y2="637.2" stroke="#1a1a1a" stroke-width="1.2" />
<line x1="640.84" y1="378.9" x2="640.84" y2="381.9" stroke="#1a1a1a" stroke-width="1.2" />
<line x1="749.12" y1="640.2" x2="749.12" y2="637.2" stroke="#1a1a1a" stroke-width="1.2" />
<line x1="749.12" y1="378.9" x2="749.12" y2="381.9" stroke="#1a1a1a" stroke-width="1.2" />
<line x1="857.4" y1="640.2" x2="857.4" y2="637.2" stroke="#1a1a1a" stroke-width="1.2" />
<line x1="857.4" y1="378.9" x2="857.4" y2="381.9" stroke="#1a1a1a" stroke-width="1.2" />
<line x1="560" y1="624.6" x2="565.5" y2="624.6" stroke="#1a1a1a" stroke-width="1.2" />
<line x1="884.2" y1="624.6" x2="878.7" y2="624.6" stroke="#1a1a1a" stroke-width="1.2" />
<line x1="560" y1="563.17" x2="565.5" y2="563.17" stroke="#1a1a1a" stroke-width="1.2" />
<line x1="884.2" y1="563.17" x2="878.7" y2="563.17" stroke="#1a1a1a" stroke-width="1.2" />
<line x1="560" y1="501.74" x2="565.5" y2="501.74" stroke="#1a1a1a" stroke-width="1.2" />
<line x1="884.2" y1="501.74" x2="878.7" y2="501.74" stroke="#1a1a1a" stroke-width="1.2" />
<line x1="560" y1="440.31" x2="565.5" y2="440.31" stroke="#1a1a1a" stroke-width="1.2" />
<line x1="884.2" y1="440.31" x2="878.7" y2="440.31" stroke="#1a1a1a" stroke-width="1.2" />
<line x1="560" y1="593.88" x2="563" y2="593.88" stroke="#1a1a1a" stroke-width="1.2" />
<line x1="884.2" y1="593.88" x2="881.2" y2="593.88" stroke="#1a1a1a" stroke-width="1.2" />
<line x1="560" y1="532.46" x2="563" y2="532.46" stroke="#1a1a1a" stroke-width="1.2" />
<line x1="884.2" y1="532.46" x2="881.2" y2="532.46" stroke="#1a1a1a" stroke-width="1.2" />
<line x1="560" y1="471.03" x2="563" y2="471.03" stroke="#1a1a1a" stroke-width="1.2" />
<line x1="884.2" y1="471.03" x2="881.2" y2="471.03" stroke="#1a1a1a" stroke-width="1.2" />
<line x1="560" y1="409.6" x2="563" y2="409.6" stroke="#1a1a1a" stroke-width="1.2" />
<line x1="884.2" y1="409.6" x2="881.2" y2="409.6" stroke="#1a1a1a" stroke-width="1.2" />
<defs><radialGradient id="gk" cx="0.35" cy="0.35" r="0.65"><stop offset="0" stop-color="#bbb"/><stop offset="0.35" stop-color="#222"/><stop offset="1" stop-color="#000"/></radialGradient><radialGradient id="gr" cx="0.35" cy="0.35" r="0.65"><stop offset="0" stop-color="#fcc"/><stop offset="0.35" stop-color="#e82222"/><stop offset="1" stop-color="#c01010"/></radialGradient></defs>
<polyline points="586.7,397.92 640.84,433.55 694.98,471.03 749.12,512.18 803.26,547.81 857.4,590.2" fill="none" stroke="#111" stroke-width="1.5" stroke-linejoin="round" />
<polyline points="586.7,421.27 640.84,461.2 694.98,499.9 749.12,543.51 803.26,577.3 857.4,619.69" fill="none" stroke="#e82222" stroke-width="1.5" stroke-linejoin="round" />
<circle cx="586.7" cy="397.92" r="4.1" fill="url(#gk)"/>
<circle cx="640.84" cy="433.55" r="4.1" fill="url(#gk)"/>
<circle cx="694.98" cy="471.03" r="4.1" fill="url(#gk)"/>
<circle cx="749.12" cy="512.18" r="4.1" fill="url(#gk)"/>
<circle cx="803.26" cy="547.81" r="4.1" fill="url(#gk)"/>
<circle cx="857.4" cy="590.2" r="4.1" fill="url(#gk)"/>
<circle cx="586.7" cy="421.27" r="4.1" fill="url(#gr)"/>
<circle cx="640.84" cy="461.2" r="4.1" fill="url(#gr)"/>
<circle cx="694.98" cy="499.9" r="4.1" fill="url(#gr)"/>
<circle cx="749.12" cy="543.51" r="4.1" fill="url(#gr)"/>
<circle cx="803.26" cy="577.3" r="4.1" fill="url(#gr)"/>
<circle cx="857.4" cy="619.69" r="4.1" fill="url(#gr)"/>
<line x1="585" y1="551" x2="650.6" y2="551" stroke="#111" stroke-width="1.5" />
<circle cx="617.8" cy="551" r="4.2" fill="url(#gk)"/>
<line x1="585" y1="593.8" x2="650.6" y2="593.8" stroke="#e82222" stroke-width="1.5" />
<circle cx="618" cy="593.8" r="4.2" fill="url(#gr)"/>
<g transform="matrix(1.0833,0,0,0.8552,653.10,559.91)"><text x="0" y="0" font-size="33" fill="#000" ><tspan font-style="italic">J</tspan><tspan font-size="23.1" dy="6.60">c</tspan><tspan dy="-6.60"></tspan></text></g>
<g transform="matrix(1.0703,0,0,0.8517,653.10,602.04)"><text x="0" y="0" font-size="33" fill="#000" ><tspan font-style="italic">J</tspan><tspan font-size="23.1" dy="6.60">on</tspan><tspan dy="-6.60"></tspan></text></g>
<rect x="560" y="378.9" width="324.2" height="261.3" fill="none" stroke="#000" stroke-width="1.6"/>
<g transform="matrix(1.0568,0,0,1.0312,418.84,368.58)"><text x="0" y="0" font-size="35" fill="#000" >(e)</text></g>
<g transform="matrix(1.1080,0,0,1.0722,525.48,388.90)"><text x="0" y="0" font-size="28" fill="#000" >10</text></g>
<g transform="matrix(1.1000,0,0,1.0667,541.10,450.50)"><text x="0" y="0" font-size="28" fill="#000" >9</text></g>
<g transform="matrix(1.1000,0,0,1.0722,541.10,509.80)"><text x="0" y="0" font-size="28" fill="#000" >8</text></g>
<g transform="matrix(1.1000,0,0,1.0722,540.00,573.80)"><text x="0" y="0" font-size="28" fill="#000" >7</text></g>
<g transform="matrix(1.1000,0,0,1.0722,541.10,632.80)"><text x="0" y="0" font-size="28" fill="#000" >6</text></g>
<g transform="matrix(1.2211,0,0,1.1056,565.16,669.40)"><text x="0" y="0" font-size="28" fill="#000" >110</text></g>
<g transform="matrix(1.2154,0,0,1.1056,672.17,669.40)"><text x="0" y="0" font-size="28" fill="#000" >120</text></g>
<g transform="matrix(1.1949,0,0,1.1389,781.41,669.20)"><text x="0" y="0" font-size="28" fill="#000" >130</text></g>
<g transform="matrix(1.2913,0,0,1.1367,667.32,711.64)"><text x="0" y="0" font-size="33" fill="#000" ><tspan font-style="italic">T</tspan> (K)</text></g>
<g transform="matrix(0.9032,0,0,1.0172,480.48,630.92)"><text x="0" y="0" font-size="33" fill="#000" transform="rotate(-90)" word-spacing="3.96" letter-spacing="2.27">Current density</text></g>
<g transform="matrix(0.9968,0,0,1.1361,519.02,593.64)"><text x="0" y="0" font-size="33" fill="#000" transform="rotate(-90)" word-spacing="3.96" letter-spacing="0.59">(10<tspan font-size="20.5" dy="-9.90">10</tspan><tspan dy="9.90"> A/m</tspan><tspan font-size="20.5" dy="-9.90">2</tspan><tspan dy="9.90">)</tspan></text></g>
<line x1="1038.91" y1="634.7" x2="1038.91" y2="625.2" stroke="#000" stroke-width="1.6" />
<line x1="1038.91" y1="30.5" x2="1038.91" y2="40" stroke="#000" stroke-width="1.6" />
<line x1="1124.33" y1="634.7" x2="1124.33" y2="625.2" stroke="#000" stroke-width="1.6" />
<line x1="1124.33" y1="30.5" x2="1124.33" y2="40" stroke="#000" stroke-width="1.6" />
<line x1="1209.75" y1="634.7" x2="1209.75" y2="625.2" stroke="#000" stroke-width="1.6" />
<line x1="1209.75" y1="30.5" x2="1209.75" y2="40" stroke="#000" stroke-width="1.6" />
<line x1="1295.17" y1="634.7" x2="1295.17" y2="625.2" stroke="#000" stroke-width="1.6" />
<line x1="1295.17" y1="30.5" x2="1295.17" y2="40" stroke="#000" stroke-width="1.6" />
<line x1="1380.59" y1="634.7" x2="1380.59" y2="625.2" stroke="#000" stroke-width="1.6" />
<line x1="1380.59" y1="30.5" x2="1380.59" y2="40" stroke="#000" stroke-width="1.6" />
<line x1="1081.62" y1="634.7" x2="1081.62" y2="629.7" stroke="#000" stroke-width="1.6" />
<line x1="1081.62" y1="30.5" x2="1081.62" y2="35.5" stroke="#000" stroke-width="1.6" />
<line x1="1167.04" y1="634.7" x2="1167.04" y2="629.7" stroke="#000" stroke-width="1.6" />
<line x1="1167.04" y1="30.5" x2="1167.04" y2="35.5" stroke="#000" stroke-width="1.6" />
<line x1="1252.46" y1="634.7" x2="1252.46" y2="629.7" stroke="#000" stroke-width="1.6" />
<line x1="1252.46" y1="30.5" x2="1252.46" y2="35.5" stroke="#000" stroke-width="1.6" />
<line x1="1337.88" y1="634.7" x2="1337.88" y2="629.7" stroke="#000" stroke-width="1.6" />
<line x1="1337.88" y1="30.5" x2="1337.88" y2="35.5" stroke="#000" stroke-width="1.6" />
<line x1="996.2" y1="111.06" x2="1005.7" y2="111.06" stroke="#000" stroke-width="1.6" />
<line x1="1423.6" y1="111.06" x2="1414.1" y2="111.06" stroke="#000" stroke-width="1.6" />
<line x1="996.2" y1="191.62" x2="1005.7" y2="191.62" stroke="#000" stroke-width="1.6" />
<line x1="1423.6" y1="191.62" x2="1414.1" y2="191.62" stroke="#000" stroke-width="1.6" />
<line x1="996.2" y1="272.18" x2="1005.7" y2="272.18" stroke="#000" stroke-width="1.6" />
<line x1="1423.6" y1="272.18" x2="1414.1" y2="272.18" stroke="#000" stroke-width="1.6" />
<line x1="996.2" y1="352.74" x2="1005.7" y2="352.74" stroke="#000" stroke-width="1.6" />
<line x1="1423.6" y1="352.74" x2="1414.1" y2="352.74" stroke="#000" stroke-width="1.6" />
<line x1="996.2" y1="433.3" x2="1005.7" y2="433.3" stroke="#000" stroke-width="1.6" />
<line x1="1423.6" y1="433.3" x2="1414.1" y2="433.3" stroke="#000" stroke-width="1.6" />
<line x1="996.2" y1="513.86" x2="1005.7" y2="513.86" stroke="#000" stroke-width="1.6" />
<line x1="1423.6" y1="513.86" x2="1414.1" y2="513.86" stroke="#000" stroke-width="1.6" />
<line x1="996.2" y1="594.42" x2="1005.7" y2="594.42" stroke="#000" stroke-width="1.6" />
<line x1="1423.6" y1="594.42" x2="1414.1" y2="594.42" stroke="#000" stroke-width="1.6" />
<line x1="996.2" y1="70.78" x2="1001.2" y2="70.78" stroke="#000" stroke-width="1.6" />
<line x1="1423.6" y1="70.78" x2="1418.6" y2="70.78" stroke="#000" stroke-width="1.6" />
<line x1="996.2" y1="151.34" x2="1001.2" y2="151.34" stroke="#000" stroke-width="1.6" />
<line x1="1423.6" y1="151.34" x2="1418.6" y2="151.34" stroke="#000" stroke-width="1.6" />
<line x1="996.2" y1="231.9" x2="1001.2" y2="231.9" stroke="#000" stroke-width="1.6" />
<line x1="1423.6" y1="231.9" x2="1418.6" y2="231.9" stroke="#000" stroke-width="1.6" />
<line x1="996.2" y1="312.46" x2="1001.2" y2="312.46" stroke="#000" stroke-width="1.6" />
<line x1="1423.6" y1="312.46" x2="1418.6" y2="312.46" stroke="#000" stroke-width="1.6" />
<line x1="996.2" y1="393.02" x2="1001.2" y2="393.02" stroke="#000" stroke-width="1.6" />
<line x1="1423.6" y1="393.02" x2="1418.6" y2="393.02" stroke="#000" stroke-width="1.6" />
<line x1="996.2" y1="473.58" x2="1001.2" y2="473.58" stroke="#000" stroke-width="1.6" />
<line x1="1423.6" y1="473.58" x2="1418.6" y2="473.58" stroke="#000" stroke-width="1.6" />
<line x1="996.2" y1="554.14" x2="1001.2" y2="554.14" stroke="#000" stroke-width="1.6" />
<line x1="1423.6" y1="554.14" x2="1418.6" y2="554.14" stroke="#000" stroke-width="1.6" />
<polyline points="1038.91,47.3 1043.18,47.72 1047.45,48.15 1051.72,48.57 1055.99,49 1060.26,49.42 1064.54,49.85 1068.81,50.27 1073.08,50.7 1077.35,51.12 1081.62,51.55 1085.89,51.98 1090.16,52.4 1095,55 1098,140 1098.7,143.6" fill="none" stroke="#1b7d3a" stroke-width="1.3" stroke-linejoin="round" />
<polyline points="1290.9,45.9 1295.17,51.5 1299.44,64 1303.71,66.6 1307.98,67.5 1312.25,93.5 1316.53,108.7 1320.8,137.3 1325.07,139 1329.34,139.5 1333.61,140 1337.88,140.5 1342.15,140.5 1346.42,141.5 1350.69,141 1354.96,141.8 1359.24,142 1363.51,141.5 1367.78,142.5 1372.05,144.8 1376.32,143.5 1380.59,142.6" fill="none" stroke="#1b7d3a" stroke-width="1.3" stroke-linejoin="round" />
<path d="M1095.4,143.6a3.3,3.3 0 1,0 6.6,0a3.3,3.3 0 1,0 -6.6,0M1099.67,143.6a3.3,3.3 0 1,0 6.6,0a3.3,3.3 0 1,0 -6.6,0M1103.95,143.6a3.3,3.3 0 1,0 6.6,0a3.3,3.3 0 1,0 -6.6,0M1108.22,143.6a3.3,3.3 0 1,0 6.6,0a3.3,3.3 0 1,0 -6.6,0M1112.49,143.6a3.3,3.3 0 1,0 6.6,0a3.3,3.3 0 1,0 -6.6,0M1116.76,143.6a3.3,3.3 0 1,0 6.6,0a3.3,3.3 0 1,0 -6.6,0M1121.03,143.6a3.3,3.3 0 1,0 6.6,0a3.3,3.3 0 1,0 -6.6,0M1125.3,143.6a3.3,3.3 0 1,0 6.6,0a3.3,3.3 0 1,0 -6.6,0M1129.57,143.6a3.3,3.3 0 1,0 6.6,0a3.3,3.3 0 1,0 -6.6,0M1133.84,143.6a3.3,3.3 0 1,0 6.6,0a3.3,3.3 0 1,0 -6.6,0M1138.11,143.6a3.3,3.3 0 1,0 6.6,0a3.3,3.3 0 1,0 -6.6,0M1142.38,143.6a3.3,3.3 0 1,0 6.6,0a3.3,3.3 0 1,0 -6.6,0M1146.66,143.6a3.3,3.3 0 1,0 6.6,0a3.3,3.3 0 1,0 -6.6,0M1150.93,143.6a3.3,3.3 0 1,0 6.6,0a3.3,3.3 0 1,0 -6.6,0M1155.2,143.6a3.3,3.3 0 1,0 6.6,0a3.3,3.3 0 1,0 -6.6,0M1159.47,143.6a3.3,3.3 0 1,0 6.6,0a3.3,3.3 0 1,0 -6.6,0M1163.74,143.6a3.3,3.3 0 1,0 6.6,0a3.3,3.3 0 1,0 -6.6,0M1168.01,143.6a3.3,3.3 0 1,0 6.6,0a3.3,3.3 0 1,0 -6.6,0M1172.28,143.6a3.3,3.3 0 1,0 6.6,0a3.3,3.3 0 1,0 -6.6,0M1176.55,143.6a3.3,3.3 0 1,0 6.6,0a3.3,3.3 0 1,0 -6.6,0M1180.82,143.6a3.3,3.3 0 1,0 6.6,0a3.3,3.3 0 1,0 -6.6,0M1185.1,143.6a3.3,3.3 0 1,0 6.6,0a3.3,3.3 0 1,0 -6.6,0M1189.37,143.6a3.3,3.3 0 1,0 6.6,0a3.3,3.3 0 1,0 -6.6,0M1193.64,143.6a3.3,3.3 0 1,0 6.6,0a3.3,3.3 0 1,0 -6.6,0M1197.91,143.6a3.3,3.3 0 1,0 6.6,0a3.3,3.3 0 1,0 -6.6,0M1202.18,143.6a3.3,3.3 0 1,0 6.6,0a3.3,3.3 0 1,0 -6.6,0M1206.45,143.6a3.3,3.3 0 1,0 6.6,0a3.3,3.3 0 1,0 -6.6,0M1210.72,143.6a3.3,3.3 0 1,0 6.6,0a3.3,3.3 0 1,0 -6.6,0M1214.99,143.6a3.3,3.3 0 1,0 6.6,0a3.3,3.3 0 1,0 -6.6,0M1219.26,143.6a3.3,3.3 0 1,0 6.6,0a3.3,3.3 0 1,0 -6.6,0M1223.53,143.6a3.3,3.3 0 1,0 6.6,0a3.3,3.3 0 1,0 -6.6,0M1227.81,143.6a3.3,3.3 0 1,0 6.6,0a3.3,3.3 0 1,0 -6.6,0M1232.08,143.6a3.3,3.3 0 1,0 6.6,0a3.3,3.3 0 1,0 -6.6,0M1236.35,143.6a3.3,3.3 0 1,0 6.6,0a3.3,3.3 0 1,0 -6.6,0M1240.62,143.6a3.3,3.3 0 1,0 6.6,0a3.3,3.3 0 1,0 -6.6,0M1244.89,143.6a3.3,3.3 0 1,0 6.6,0a3.3,3.3 0 1,0 -6.6,0M1249.16,143.6a3.3,3.3 0 1,0 6.6,0a3.3,3.3 0 1,0 -6.6,0M1253.43,143.6a3.3,3.3 0 1,0 6.6,0a3.3,3.3 0 1,0 -6.6,0M1257.7,143.6a3.3,3.3 0 1,0 6.6,0a3.3,3.3 0 1,0 -6.6,0M1261.97,143.6a3.3,3.3 0 1,0 6.6,0a3.3,3.3 0 1,0 -6.6,0M1266.24,143.6a3.3,3.3 0 1,0 6.6,0a3.3,3.3 0 1,0 -6.6,0M1270.52,143.6a3.3,3.3 0 1,0 6.6,0a3.3,3.3 0 1,0 -6.6,0M1274.79,143.6a3.3,3.3 0 1,0 6.6,0a3.3,3.3 0 1,0 -6.6,0M1279.06,143.6a3.3,3.3 0 1,0 6.6,0a3.3,3.3 0 1,0 -6.6,0M1283.33,143.6a3.3,3.3 0 1,0 6.6,0a3.3,3.3 0 1,0 -6.6,0M1287.6,143.6a3.3,3.3 0 1,0 6.6,0a3.3,3.3 0 1,0 -6.6,0M1291.87,143.6a3.3,3.3 0 1,0 6.6,0a3.3,3.3 0 1,0 -6.6,0M1296.14,143.6a3.3,3.3 0 1,0 6.6,0a3.3,3.3 0 1,0 -6.6,0M1300.41,143.6a3.3,3.3 0 1,0 6.6,0a3.3,3.3 0 1,0 -6.6,0M1304.68,143.6a3.3,3.3 0 1,0 6.6,0a3.3,3.3 0 1,0 -6.6,0M1308.95,143.6a3.3,3.3 0 1,0 6.6,0a3.3,3.3 0 1,0 -6.6,0M1313.23,143.6a3.3,3.3 0 1,0 6.6,0a3.3,3.3 0 1,0 -6.6,0M1317.5,143.6a3.3,3.3 0 1,0 6.6,0a3.3,3.3 0 1,0 -6.6,0M1321.77,143.6a3.3,3.3 0 1,0 6.6,0a3.3,3.3 0 1,0 -6.6,0M1326.04,143.6a3.3,3.3 0 1,0 6.6,0a3.3,3.3 0 1,0 -6.6,0M1330.31,143.6a3.3,3.3 0 1,0 6.6,0a3.3,3.3 0 1,0 -6.6,0M1334.58,143.6a3.3,3.3 0 1,0 6.6,0a3.3,3.3 0 1,0 -6.6,0M1338.85,143.6a3.3,3.3 0 1,0 6.6,0a3.3,3.3 0 1,0 -6.6,0M1343.12,143.6a3.3,3.3 0 1,0 6.6,0a3.3,3.3 0 1,0 -6.6,0M1347.39,143.6a3.3,3.3 0 1,0 6.6,0a3.3,3.3 0 1,0 -6.6,0M1351.66,143.6a3.3,3.3 0 1,0 6.6,0a3.3,3.3 0 1,0 -6.6,0M1355.94,143.6a3.3,3.3 0 1,0 6.6,0a3.3,3.3 0 1,0 -6.6,0M1360.21,143.6a3.3,3.3 0 1,0 6.6,0a3.3,3.3 0 1,0 -6.6,0M1364.48,143.6a3.3,3.3 0 1,0 6.6,0a3.3,3.3 0 1,0 -6.6,0M1368.75,143.6a3.3,3.3 0 1,0 6.6,0a3.3,3.3 0 1,0 -6.6,0M1373.02,143.6a3.3,3.3 0 1,0 6.6,0a3.3,3.3 0 1,0 -6.6,0M1377.29,143.6a3.3,3.3 0 1,0 6.6,0a3.3,3.3 0 1,0 -6.6,0" fill="#1b7d3a"/>
<path d="M1035.61,45.9a3.3,3.3 0 1,0 6.6,0a3.3,3.3 0 1,0 -6.6,0M1039.88,45.9a3.3,3.3 0 1,0 6.6,0a3.3,3.3 0 1,0 -6.6,0M1044.15,45.9a3.3,3.3 0 1,0 6.6,0a3.3,3.3 0 1,0 -6.6,0M1048.42,45.9a3.3,3.3 0 1,0 6.6,0a3.3,3.3 0 1,0 -6.6,0M1052.69,45.9a3.3,3.3 0 1,0 6.6,0a3.3,3.3 0 1,0 -6.6,0M1056.96,45.9a3.3,3.3 0 1,0 6.6,0a3.3,3.3 0 1,0 -6.6,0M1061.24,45.9a3.3,3.3 0 1,0 6.6,0a3.3,3.3 0 1,0 -6.6,0M1065.51,45.9a3.3,3.3 0 1,0 6.6,0a3.3,3.3 0 1,0 -6.6,0M1069.78,45.9a3.3,3.3 0 1,0 6.6,0a3.3,3.3 0 1,0 -6.6,0M1074.05,45.9a3.3,3.3 0 1,0 6.6,0a3.3,3.3 0 1,0 -6.6,0M1078.32,45.9a3.3,3.3 0 1,0 6.6,0a3.3,3.3 0 1,0 -6.6,0M1082.59,45.9a3.3,3.3 0 1,0 6.6,0a3.3,3.3 0 1,0 -6.6,0M1086.86,45.9a3.3,3.3 0 1,0 6.6,0a3.3,3.3 0 1,0 -6.6,0M1091.13,45.9a3.3,3.3 0 1,0 6.6,0a3.3,3.3 0 1,0 -6.6,0M1095.4,45.9a3.3,3.3 0 1,0 6.6,0a3.3,3.3 0 1,0 -6.6,0M1099.67,45.9a3.3,3.3 0 1,0 6.6,0a3.3,3.3 0 1,0 -6.6,0M1103.95,45.9a3.3,3.3 0 1,0 6.6,0a3.3,3.3 0 1,0 -6.6,0M1108.22,45.9a3.3,3.3 0 1,0 6.6,0a3.3,3.3 0 1,0 -6.6,0M1112.49,45.9a3.3,3.3 0 1,0 6.6,0a3.3,3.3 0 1,0 -6.6,0M1116.76,45.9a3.3,3.3 0 1,0 6.6,0a3.3,3.3 0 1,0 -6.6,0M1121.03,45.9a3.3,3.3 0 1,0 6.6,0a3.3,3.3 0 1,0 -6.6,0M1125.3,45.9a3.3,3.3 0 1,0 6.6,0a3.3,3.3 0 1,0 -6.6,0M1129.57,45.9a3.3,3.3 0 1,0 6.6,0a3.3,3.3 0 1,0 -6.6,0M1133.84,45.9a3.3,3.3 0 1,0 6.6,0a3.3,3.3 0 1,0 -6.6,0M1138.11,45.9a3.3,3.3 0 1,0 6.6,0a3.3,3.3 0 1,0 -6.6,0M1142.38,45.9a3.3,3.3 0 1,0 6.6,0a3.3,3.3 0 1,0 -6.6,0M1146.66,45.9a3.3,3.3 0 1,0 6.6,0a3.3,3.3 0 1,0 -6.6,0M1150.93,45.9a3.3,3.3 0 1,0 6.6,0a3.3,3.3 0 1,0 -6.6,0M1155.2,45.9a3.3,3.3 0 1,0 6.6,0a3.3,3.3 0 1,0 -6.6,0M1159.47,45.9a3.3,3.3 0 1,0 6.6,0a3.3,3.3 0 1,0 -6.6,0M1163.74,45.9a3.3,3.3 0 1,0 6.6,0a3.3,3.3 0 1,0 -6.6,0M1168.01,45.9a3.3,3.3 0 1,0 6.6,0a3.3,3.3 0 1,0 -6.6,0M1172.28,45.9a3.3,3.3 0 1,0 6.6,0a3.3,3.3 0 1,0 -6.6,0M1176.55,45.9a3.3,3.3 0 1,0 6.6,0a3.3,3.3 0 1,0 -6.6,0M1180.82,45.9a3.3,3.3 0 1,0 6.6,0a3.3,3.3 0 1,0 -6.6,0M1185.1,45.9a3.3,3.3 0 1,0 6.6,0a3.3,3.3 0 1,0 -6.6,0M1189.37,45.9a3.3,3.3 0 1,0 6.6,0a3.3,3.3 0 1,0 -6.6,0M1193.64,45.9a3.3,3.3 0 1,0 6.6,0a3.3,3.3 0 1,0 -6.6,0M1197.91,45.9a3.3,3.3 0 1,0 6.6,0a3.3,3.3 0 1,0 -6.6,0M1202.18,45.9a3.3,3.3 0 1,0 6.6,0a3.3,3.3 0 1,0 -6.6,0M1206.45,45.9a3.3,3.3 0 1,0 6.6,0a3.3,3.3 0 1,0 -6.6,0M1210.72,45.9a3.3,3.3 0 1,0 6.6,0a3.3,3.3 0 1,0 -6.6,0M1214.99,45.9a3.3,3.3 0 1,0 6.6,0a3.3,3.3 0 1,0 -6.6,0M1219.26,45.9a3.3,3.3 0 1,0 6.6,0a3.3,3.3 0 1,0 -6.6,0M1223.53,45.9a3.3,3.3 0 1,0 6.6,0a3.3,3.3 0 1,0 -6.6,0M1227.81,45.9a3.3,3.3 0 1,0 6.6,0a3.3,3.3 0 1,0 -6.6,0M1232.08,45.9a3.3,3.3 0 1,0 6.6,0a3.3,3.3 0 1,0 -6.6,0M1236.35,45.9a3.3,3.3 0 1,0 6.6,0a3.3,3.3 0 1,0 -6.6,0M1240.62,45.9a3.3,3.3 0 1,0 6.6,0a3.3,3.3 0 1,0 -6.6,0M1244.89,45.9a3.3,3.3 0 1,0 6.6,0a3.3,3.3 0 1,0 -6.6,0M1249.16,45.9a3.3,3.3 0 1,0 6.6,0a3.3,3.3 0 1,0 -6.6,0M1253.43,45.9a3.3,3.3 0 1,0 6.6,0a3.3,3.3 0 1,0 -6.6,0M1257.7,45.9a3.3,3.3 0 1,0 6.6,0a3.3,3.3 0 1,0 -6.6,0M1261.97,45.9a3.3,3.3 0 1,0 6.6,0a3.3,3.3 0 1,0 -6.6,0M1266.24,45.9a3.3,3.3 0 1,0 6.6,0a3.3,3.3 0 1,0 -6.6,0M1270.52,45.9a3.3,3.3 0 1,0 6.6,0a3.3,3.3 0 1,0 -6.6,0M1274.79,45.9a3.3,3.3 0 1,0 6.6,0a3.3,3.3 0 1,0 -6.6,0M1279.06,45.9a3.3,3.3 0 1,0 6.6,0a3.3,3.3 0 1,0 -6.6,0M1283.33,45.9a3.3,3.3 0 1,0 6.6,0a3.3,3.3 0 1,0 -6.6,0M1287.6,45.9a3.3,3.3 0 1,0 6.6,0a3.3,3.3 0 1,0 -6.6,0" fill="#1b7d3a"/>
<path d="M1035.61,47.3a3.3,3.3 0 1,0 6.6,0a3.3,3.3 0 1,0 -6.6,0M1039.88,47.72a3.3,3.3 0 1,0 6.6,0a3.3,3.3 0 1,0 -6.6,0M1044.15,48.15a3.3,3.3 0 1,0 6.6,0a3.3,3.3 0 1,0 -6.6,0M1048.42,48.57a3.3,3.3 0 1,0 6.6,0a3.3,3.3 0 1,0 -6.6,0M1052.69,49a3.3,3.3 0 1,0 6.6,0a3.3,3.3 0 1,0 -6.6,0M1056.96,49.42a3.3,3.3 0 1,0 6.6,0a3.3,3.3 0 1,0 -6.6,0M1061.24,49.85a3.3,3.3 0 1,0 6.6,0a3.3,3.3 0 1,0 -6.6,0M1065.51,50.27a3.3,3.3 0 1,0 6.6,0a3.3,3.3 0 1,0 -6.6,0M1069.78,50.7a3.3,3.3 0 1,0 6.6,0a3.3,3.3 0 1,0 -6.6,0M1074.05,51.12a3.3,3.3 0 1,0 6.6,0a3.3,3.3 0 1,0 -6.6,0M1078.32,51.55a3.3,3.3 0 1,0 6.6,0a3.3,3.3 0 1,0 -6.6,0M1082.59,51.98a3.3,3.3 0 1,0 6.6,0a3.3,3.3 0 1,0 -6.6,0M1086.86,52.4a3.3,3.3 0 1,0 6.6,0a3.3,3.3 0 1,0 -6.6,0" fill="#1b7d3a"/>
<path d="M1291.87,51.5a3.3,3.3 0 1,0 6.6,0a3.3,3.3 0 1,0 -6.6,0M1296.14,64a3.3,3.3 0 1,0 6.6,0a3.3,3.3 0 1,0 -6.6,0M1300.41,66.6a3.3,3.3 0 1,0 6.6,0a3.3,3.3 0 1,0 -6.6,0M1304.68,67.5a3.3,3.3 0 1,0 6.6,0a3.3,3.3 0 1,0 -6.6,0M1308.95,93.5a3.3,3.3 0 1,0 6.6,0a3.3,3.3 0 1,0 -6.6,0M1313.23,108.7a3.3,3.3 0 1,0 6.6,0a3.3,3.3 0 1,0 -6.6,0M1317.5,137.3a3.3,3.3 0 1,0 6.6,0a3.3,3.3 0 1,0 -6.6,0M1321.77,139a3.3,3.3 0 1,0 6.6,0a3.3,3.3 0 1,0 -6.6,0M1326.04,139.5a3.3,3.3 0 1,0 6.6,0a3.3,3.3 0 1,0 -6.6,0M1330.31,140a3.3,3.3 0 1,0 6.6,0a3.3,3.3 0 1,0 -6.6,0M1334.58,140.5a3.3,3.3 0 1,0 6.6,0a3.3,3.3 0 1,0 -6.6,0M1338.85,140.5a3.3,3.3 0 1,0 6.6,0a3.3,3.3 0 1,0 -6.6,0M1343.12,141.5a3.3,3.3 0 1,0 6.6,0a3.3,3.3 0 1,0 -6.6,0M1347.39,141a3.3,3.3 0 1,0 6.6,0a3.3,3.3 0 1,0 -6.6,0M1351.66,141.8a3.3,3.3 0 1,0 6.6,0a3.3,3.3 0 1,0 -6.6,0M1355.94,142a3.3,3.3 0 1,0 6.6,0a3.3,3.3 0 1,0 -6.6,0M1360.21,141.5a3.3,3.3 0 1,0 6.6,0a3.3,3.3 0 1,0 -6.6,0M1364.48,142.5a3.3,3.3 0 1,0 6.6,0a3.3,3.3 0 1,0 -6.6,0M1368.75,144.8a3.3,3.3 0 1,0 6.6,0a3.3,3.3 0 1,0 -6.6,0M1373.02,143.5a3.3,3.3 0 1,0 6.6,0a3.3,3.3 0 1,0 -6.6,0M1377.29,142.6a3.3,3.3 0 1,0 6.6,0a3.3,3.3 0 1,0 -6.6,0" fill="#1b7d3a"/>
<polyline points="1038.91,165.2 1043.18,165.86 1047.45,166.51 1051.72,167.17 1055.99,167.82 1060.26,168.48 1064.54,169.13 1068.81,169.79 1073.08,170.44 1077.35,171.1 1077.4,175 1081.3,251.1 1085.89,259.3" fill="none" stroke="#f07e1f" stroke-width="1.3" stroke-linejoin="round" />
<polyline points="1299.44,163.6 1303.71,167 1307.98,167 1312.25,166 1316.53,162.5 1320.8,167 1325.07,184.9 1329.34,188.4 1333.61,186.6 1337.88,251 1342.15,252.5 1346.42,253.5 1350.69,254.5 1354.96,255 1359.24,255.5 1363.51,256 1367.78,256.5 1372.05,256.8 1376.32,257 1380.59,257.3" fill="none" stroke="#f07e1f" stroke-width="1.3" stroke-linejoin="round" />
<path d="M1082.59,259.3a3.3,3.3 0 1,0 6.6,0a3.3,3.3 0 1,0 -6.6,0M1086.86,259.3a3.3,3.3 0 1,0 6.6,0a3.3,3.3 0 1,0 -6.6,0M1091.13,259.3a3.3,3.3 0 1,0 6.6,0a3.3,3.3 0 1,0 -6.6,0M1095.4,259.3a3.3,3.3 0 1,0 6.6,0a3.3,3.3 0 1,0 -6.6,0M1099.67,259.3a3.3,3.3 0 1,0 6.6,0a3.3,3.3 0 1,0 -6.6,0M1103.95,259.3a3.3,3.3 0 1,0 6.6,0a3.3,3.3 0 1,0 -6.6,0M1108.22,259.3a3.3,3.3 0 1,0 6.6,0a3.3,3.3 0 1,0 -6.6,0M1112.49,259.3a3.3,3.3 0 1,0 6.6,0a3.3,3.3 0 1,0 -6.6,0M1116.76,259.3a3.3,3.3 0 1,0 6.6,0a3.3,3.3 0 1,0 -6.6,0M1121.03,259.3a3.3,3.3 0 1,0 6.6,0a3.3,3.3 0 1,0 -6.6,0M1125.3,259.3a3.3,3.3 0 1,0 6.6,0a3.3,3.3 0 1,0 -6.6,0M1129.57,259.3a3.3,3.3 0 1,0 6.6,0a3.3,3.3 0 1,0 -6.6,0M1133.84,259.3a3.3,3.3 0 1,0 6.6,0a3.3,3.3 0 1,0 -6.6,0M1138.11,259.3a3.3,3.3 0 1,0 6.6,0a3.3,3.3 0 1,0 -6.6,0M1142.38,259.3a3.3,3.3 0 1,0 6.6,0a3.3,3.3 0 1,0 -6.6,0M1146.66,259.3a3.3,3.3 0 1,0 6.6,0a3.3,3.3 0 1,0 -6.6,0M1150.93,259.3a3.3,3.3 0 1,0 6.6,0a3.3,3.3 0 1,0 -6.6,0M1155.2,259.3a3.3,3.3 0 1,0 6.6,0a3.3,3.3 0 1,0 -6.6,0M1159.47,259.3a3.3,3.3 0 1,0 6.6,0a3.3,3.3 0 1,0 -6.6,0M1163.74,259.3a3.3,3.3 0 1,0 6.6,0a3.3,3.3 0 1,0 -6.6,0M1168.01,259.3a3.3,3.3 0 1,0 6.6,0a3.3,3.3 0 1,0 -6.6,0M1172.28,259.3a3.3,3.3 0 1,0 6.6,0a3.3,3.3 0 1,0 -6.6,0M1176.55,259.3a3.3,3.3 0 1,0 6.6,0a3.3,3.3 0 1,0 -6.6,0M1180.82,259.3a3.3,3.3 0 1,0 6.6,0a3.3,3.3 0 1,0 -6.6,0M1185.1,259.3a3.3,3.3 0 1,0 6.6,0a3.3,3.3 0 1,0 -6.6,0M1189.37,259.3a3.3,3.3 0 1,0 6.6,0a3.3,3.3 0 1,0 -6.6,0M1193.64,259.3a3.3,3.3 0 1,0 6.6,0a3.3,3.3 0 1,0 -6.6,0M1197.91,259.3a3.3,3.3 0 1,0 6.6,0a3.3,3.3 0 1,0 -6.6,0M1202.18,259.3a3.3,3.3 0 1,0 6.6,0a3.3,3.3 0 1,0 -6.6,0M1206.45,259.3a3.3,3.3 0 1,0 6.6,0a3.3,3.3 0 1,0 -6.6,0M1210.72,259.3a3.3,3.3 0 1,0 6.6,0a3.3,3.3 0 1,0 -6.6,0M1214.99,259.3a3.3,3.3 0 1,0 6.6,0a3.3,3.3 0 1,0 -6.6,0M1219.26,259.3a3.3,3.3 0 1,0 6.6,0a3.3,3.3 0 1,0 -6.6,0M1223.53,259.3a3.3,3.3 0 1,0 6.6,0a3.3,3.3 0 1,0 -6.6,0M1227.81,259.3a3.3,3.3 0 1,0 6.6,0a3.3,3.3 0 1,0 -6.6,0M1232.08,259.3a3.3,3.3 0 1,0 6.6,0a3.3,3.3 0 1,0 -6.6,0M1236.35,259.3a3.3,3.3 0 1,0 6.6,0a3.3,3.3 0 1,0 -6.6,0M1240.62,259.3a3.3,3.3 0 1,0 6.6,0a3.3,3.3 0 1,0 -6.6,0M1244.89,259.3a3.3,3.3 0 1,0 6.6,0a3.3,3.3 0 1,0 -6.6,0M1249.16,259.3a3.3,3.3 0 1,0 6.6,0a3.3,3.3 0 1,0 -6.6,0M1253.43,259.3a3.3,3.3 0 1,0 6.6,0a3.3,3.3 0 1,0 -6.6,0M1257.7,259.3a3.3,3.3 0 1,0 6.6,0a3.3,3.3 0 1,0 -6.6,0M1261.97,259.3a3.3,3.3 0 1,0 6.6,0a3.3,3.3 0 1,0 -6.6,0M1266.24,259.3a3.3,3.3 0 1,0 6.6,0a3.3,3.3 0 1,0 -6.6,0M1270.52,259.3a3.3,3.3 0 1,0 6.6,0a3.3,3.3 0 1,0 -6.6,0M1274.79,259.3a3.3,3.3 0 1,0 6.6,0a3.3,3.3 0 1,0 -6.6,0M1279.06,259.3a3.3,3.3 0 1,0 6.6,0a3.3,3.3 0 1,0 -6.6,0M1283.33,259.3a3.3,3.3 0 1,0 6.6,0a3.3,3.3 0 1,0 -6.6,0M1287.6,259.3a3.3,3.3 0 1,0 6.6,0a3.3,3.3 0 1,0 -6.6,0M1291.87,259.3a3.3,3.3 0 1,0 6.6,0a3.3,3.3 0 1,0 -6.6,0M1296.14,259.3a3.3,3.3 0 1,0 6.6,0a3.3,3.3 0 1,0 -6.6,0M1300.41,259.3a3.3,3.3 0 1,0 6.6,0a3.3,3.3 0 1,0 -6.6,0M1304.68,259.3a3.3,3.3 0 1,0 6.6,0a3.3,3.3 0 1,0 -6.6,0M1308.95,259.3a3.3,3.3 0 1,0 6.6,0a3.3,3.3 0 1,0 -6.6,0M1313.23,259.3a3.3,3.3 0 1,0 6.6,0a3.3,3.3 0 1,0 -6.6,0M1317.5,259.3a3.3,3.3 0 1,0 6.6,0a3.3,3.3 0 1,0 -6.6,0M1321.77,259.3a3.3,3.3 0 1,0 6.6,0a3.3,3.3 0 1,0 -6.6,0M1326.04,259.3a3.3,3.3 0 1,0 6.6,0a3.3,3.3 0 1,0 -6.6,0M1330.31,259.3a3.3,3.3 0 1,0 6.6,0a3.3,3.3 0 1,0 -6.6,0M1334.58,259.3a3.3,3.3 0 1,0 6.6,0a3.3,3.3 0 1,0 -6.6,0M1338.85,259.3a3.3,3.3 0 1,0 6.6,0a3.3,3.3 0 1,0 -6.6,0M1343.12,259.3a3.3,3.3 0 1,0 6.6,0a3.3,3.3 0 1,0 -6.6,0M1347.39,259.3a3.3,3.3 0 1,0 6.6,0a3.3,3.3 0 1,0 -6.6,0M1351.66,259.3a3.3,3.3 0 1,0 6.6,0a3.3,3.3 0 1,0 -6.6,0M1355.94,259.3a3.3,3.3 0 1,0 6.6,0a3.3,3.3 0 1,0 -6.6,0M1360.21,259.3a3.3,3.3 0 1,0 6.6,0a3.3,3.3 0 1,0 -6.6,0M1364.48,259.3a3.3,3.3 0 1,0 6.6,0a3.3,3.3 0 1,0 -6.6,0M1368.75,259.3a3.3,3.3 0 1,0 6.6,0a3.3,3.3 0 1,0 -6.6,0M1373.02,259.3a3.3,3.3 0 1,0 6.6,0a3.3,3.3 0 1,0 -6.6,0M1377.29,259.3a3.3,3.3 0 1,0 6.6,0a3.3,3.3 0 1,0 -6.6,0" fill="#f07e1f"/>
<path d="M1035.61,163.6a3.3,3.3 0 1,0 6.6,0a3.3,3.3 0 1,0 -6.6,0M1039.88,163.6a3.3,3.3 0 1,0 6.6,0a3.3,3.3 0 1,0 -6.6,0M1044.15,163.6a3.3,3.3 0 1,0 6.6,0a3.3,3.3 0 1,0 -6.6,0M1048.42,163.6a3.3,3.3 0 1,0 6.6,0a3.3,3.3 0 1,0 -6.6,0M1052.69,163.6a3.3,3.3 0 1,0 6.6,0a3.3,3.3 0 1,0 -6.6,0M1056.96,163.6a3.3,3.3 0 1,0 6.6,0a3.3,3.3 0 1,0 -6.6,0M1061.24,163.6a3.3,3.3 0 1,0 6.6,0a3.3,3.3 0 1,0 -6.6,0M1065.51,163.6a3.3,3.3 0 1,0 6.6,0a3.3,3.3 0 1,0 -6.6,0M1069.78,163.6a3.3,3.3 0 1,0 6.6,0a3.3,3.3 0 1,0 -6.6,0M1074.05,163.6a3.3,3.3 0 1,0 6.6,0a3.3,3.3 0 1,0 -6.6,0M1078.32,163.6a3.3,3.3 0 1,0 6.6,0a3.3,3.3 0 1,0 -6.6,0M1082.59,163.6a3.3,3.3 0 1,0 6.6,0a3.3,3.3 0 1,0 -6.6,0M1086.86,163.6a3.3,3.3 0 1,0 6.6,0a3.3,3.3 0 1,0 -6.6,0M1091.13,163.6a3.3,3.3 0 1,0 6.6,0a3.3,3.3 0 1,0 -6.6,0M1095.4,163.6a3.3,3.3 0 1,0 6.6,0a3.3,3.3 0 1,0 -6.6,0M1099.67,163.6a3.3,3.3 0 1,0 6.6,0a3.3,3.3 0 1,0 -6.6,0M1103.95,163.6a3.3,3.3 0 1,0 6.6,0a3.3,3.3 0 1,0 -6.6,0M1108.22,163.6a3.3,3.3 0 1,0 6.6,0a3.3,3.3 0 1,0 -6.6,0M1112.49,163.6a3.3,3.3 0 1,0 6.6,0a3.3,3.3 0 1,0 -6.6,0M1116.76,163.6a3.3,3.3 0 1,0 6.6,0a3.3,3.3 0 1,0 -6.6,0M1121.03,163.6a3.3,3.3 0 1,0 6.6,0a3.3,3.3 0 1,0 -6.6,0M1125.3,163.6a3.3,3.3 0 1,0 6.6,0a3.3,3.3 0 1,0 -6.6,0M1129.57,163.6a3.3,3.3 0 1,0 6.6,0a3.3,3.3 0 1,0 -6.6,0M1133.84,163.6a3.3,3.3 0 1,0 6.6,0a3.3,3.3 0 1,0 -6.6,0M1138.11,163.6a3.3,3.3 0 1,0 6.6,0a3.3,3.3 0 1,0 -6.6,0M1142.38,163.6a3.3,3.3 0 1,0 6.6,0a3.3,3.3 0 1,0 -6.6,0M1146.66,163.6a3.3,3.3 0 1,0 6.6,0a3.3,3.3 0 1,0 -6.6,0M1150.93,163.6a3.3,3.3 0 1,0 6.6,0a3.3,3.3 0 1,0 -6.6,0M1155.2,163.6a3.3,3.3 0 1,0 6.6,0a3.3,3.3 0 1,0 -6.6,0M1159.47,163.6a3.3,3.3 0 1,0 6.6,0a3.3,3.3 0 1,0 -6.6,0M1163.74,163.6a3.3,3.3 0 1,0 6.6,0a3.3,3.3 0 1,0 -6.6,0M1168.01,163.6a3.3,3.3 0 1,0 6.6,0a3.3,3.3 0 1,0 -6.6,0M1172.28,163.6a3.3,3.3 0 1,0 6.6,0a3.3,3.3 0 1,0 -6.6,0M1176.55,163.6a3.3,3.3 0 1,0 6.6,0a3.3,3.3 0 1,0 -6.6,0M1180.82,163.6a3.3,3.3 0 1,0 6.6,0a3.3,3.3 0 1,0 -6.6,0M1185.1,163.6a3.3,3.3 0 1,0 6.6,0a3.3,3.3 0 1,0 -6.6,0M1189.37,163.6a3.3,3.3 0 1,0 6.6,0a3.3,3.3 0 1,0 -6.6,0M1193.64,163.6a3.3,3.3 0 1,0 6.6,0a3.3,3.3 0 1,0 -6.6,0M1197.91,163.6a3.3,3.3 0 1,0 6.6,0a3.3,3.3 0 1,0 -6.6,0M1202.18,163.6a3.3,3.3 0 1,0 6.6,0a3.3,3.3 0 1,0 -6.6,0M1206.45,163.6a3.3,3.3 0 1,0 6.6,0a3.3,3.3 0 1,0 -6.6,0M1210.72,163.6a3.3,3.3 0 1,0 6.6,0a3.3,3.3 0 1,0 -6.6,0M1214.99,163.6a3.3,3.3 0 1,0 6.6,0a3.3,3.3 0 1,0 -6.6,0M1219.26,163.6a3.3,3.3 0 1,0 6.6,0a3.3,3.3 0 1,0 -6.6,0M1223.53,163.6a3.3,3.3 0 1,0 6.6,0a3.3,3.3 0 1,0 -6.6,0M1227.81,163.6a3.3,3.3 0 1,0 6.6,0a3.3,3.3 0 1,0 -6.6,0M1232.08,163.6a3.3,3.3 0 1,0 6.6,0a3.3,3.3 0 1,0 -6.6,0M1236.35,163.6a3.3,3.3 0 1,0 6.6,0a3.3,3.3 0 1,0 -6.6,0M1240.62,163.6a3.3,3.3 0 1,0 6.6,0a3.3,3.3 0 1,0 -6.6,0M1244.89,163.6a3.3,3.3 0 1,0 6.6,0a3.3,3.3 0 1,0 -6.6,0M1249.16,163.6a3.3,3.3 0 1,0 6.6,0a3.3,3.3 0 1,0 -6.6,0M1253.43,163.6a3.3,3.3 0 1,0 6.6,0a3.3,3.3 0 1,0 -6.6,0M1257.7,163.6a3.3,3.3 0 1,0 6.6,0a3.3,3.3 0 1,0 -6.6,0M1261.97,163.6a3.3,3.3 0 1,0 6.6,0a3.3,3.3 0 1,0 -6.6,0M1266.24,163.6a3.3,3.3 0 1,0 6.6,0a3.3,3.3 0 1,0 -6.6,0M1270.52,163.6a3.3,3.3 0 1,0 6.6,0a3.3,3.3 0 1,0 -6.6,0M1274.79,163.6a3.3,3.3 0 1,0 6.6,0a3.3,3.3 0 1,0 -6.6,0M1279.06,163.6a3.3,3.3 0 1,0 6.6,0a3.3,3.3 0 1,0 -6.6,0M1283.33,163.6a3.3,3.3 0 1,0 6.6,0a3.3,3.3 0 1,0 -6.6,0M1287.6,163.6a3.3,3.3 0 1,0 6.6,0a3.3,3.3 0 1,0 -6.6,0M1291.87,163.6a3.3,3.3 0 1,0 6.6,0a3.3,3.3 0 1,0 -6.6,0M1296.14,163.6a3.3,3.3 0 1,0 6.6,0a3.3,3.3 0 1,0 -6.6,0" fill="#f07e1f"/>
<path d="M1035.61,165.2a3.3,3.3 0 1,0 6.6,0a3.3,3.3 0 1,0 -6.6,0M1039.88,165.86a3.3,3.3 0 1,0 6.6,0a3.3,3.3 0 1,0 -6.6,0M1044.15,166.51a3.3,3.3 0 1,0 6.6,0a3.3,3.3 0 1,0 -6.6,0M1048.42,167.17a3.3,3.3 0 1,0 6.6,0a3.3,3.3 0 1,0 -6.6,0M1052.69,167.82a3.3,3.3 0 1,0 6.6,0a3.3,3.3 0 1,0 -6.6,0M1056.96,168.48a3.3,3.3 0 1,0 6.6,0a3.3,3.3 0 1,0 -6.6,0M1061.24,169.13a3.3,3.3 0 1,0 6.6,0a3.3,3.3 0 1,0 -6.6,0M1065.51,169.79a3.3,3.3 0 1,0 6.6,0a3.3,3.3 0 1,0 -6.6,0M1069.78,170.44a3.3,3.3 0 1,0 6.6,0a3.3,3.3 0 1,0 -6.6,0M1074.05,171.1a3.3,3.3 0 1,0 6.6,0a3.3,3.3 0 1,0 -6.6,0" fill="#f07e1f"/>
<path d="M1300.41,167a3.3,3.3 0 1,0 6.6,0a3.3,3.3 0 1,0 -6.6,0M1304.68,167a3.3,3.3 0 1,0 6.6,0a3.3,3.3 0 1,0 -6.6,0M1308.95,166a3.3,3.3 0 1,0 6.6,0a3.3,3.3 0 1,0 -6.6,0M1313.23,162.5a3.3,3.3 0 1,0 6.6,0a3.3,3.3 0 1,0 -6.6,0M1317.5,167a3.3,3.3 0 1,0 6.6,0a3.3,3.3 0 1,0 -6.6,0M1321.77,184.9a3.3,3.3 0 1,0 6.6,0a3.3,3.3 0 1,0 -6.6,0M1326.04,188.4a3.3,3.3 0 1,0 6.6,0a3.3,3.3 0 1,0 -6.6,0M1330.31,186.6a3.3,3.3 0 1,0 6.6,0a3.3,3.3 0 1,0 -6.6,0M1334.58,251a3.3,3.3 0 1,0 6.6,0a3.3,3.3 0 1,0 -6.6,0M1338.85,252.5a3.3,3.3 0 1,0 6.6,0a3.3,3.3 0 1,0 -6.6,0M1343.12,253.5a3.3,3.3 0 1,0 6.6,0a3.3,3.3 0 1,0 -6.6,0M1347.39,254.5a3.3,3.3 0 1,0 6.6,0a3.3,3.3 0 1,0 -6.6,0M1351.66,255a3.3,3.3 0 1,0 6.6,0a3.3,3.3 0 1,0 -6.6,0M1355.94,255.5a3.3,3.3 0 1,0 6.6,0a3.3,3.3 0 1,0 -6.6,0M1360.21,256a3.3,3.3 0 1,0 6.6,0a3.3,3.3 0 1,0 -6.6,0M1364.48,256.5a3.3,3.3 0 1,0 6.6,0a3.3,3.3 0 1,0 -6.6,0M1368.75,256.8a3.3,3.3 0 1,0 6.6,0a3.3,3.3 0 1,0 -6.6,0M1373.02,257a3.3,3.3 0 1,0 6.6,0a3.3,3.3 0 1,0 -6.6,0M1377.29,257.3a3.3,3.3 0 1,0 6.6,0a3.3,3.3 0 1,0 -6.6,0" fill="#f07e1f"/>
<path d="M1078,251.1a3.3,3.3 0 1,0 6.6,0a3.3,3.3 0 1,0 -6.6,0" fill="#f07e1f"/>
<polyline points="1038.91,287 1043.18,287.75 1047.45,288.5 1051.72,289.25 1055.99,290 1060.26,290.75 1064.54,291.5 1064.9,296 1068.1,373.8 1068.81,378.2" fill="none" stroke="#2f4daa" stroke-width="1.3" stroke-linejoin="round" />
<polyline points="1307.98,284.2 1312.25,289.7 1316.53,289.3 1320.8,283.4 1325.07,283.4 1329.34,288.2 1333.61,300.4 1337.88,306.6 1342.15,328.1 1346.42,368.3 1350.69,369.5 1354.96,370.5 1359.24,371.5 1363.51,372.5 1367.78,373.5 1372.05,374.5 1376.32,375.8 1380.59,377" fill="none" stroke="#2f4daa" stroke-width="1.3" stroke-linejoin="round" />
<path d="M1065.51,378.2a3.3,3.3 0 1,0 6.6,0a3.3,3.3 0 1,0 -6.6,0M1069.78,378.2a3.3,3.3 0 1,0 6.6,0a3.3,3.3 0 1,0 -6.6,0M1074.05,378.2a3.3,3.3 0 1,0 6.6,0a3.3,3.3 0 1,0 -6.6,0M1078.32,378.2a3.3,3.3 0 1,0 6.6,0a3.3,3.3 0 1,0 -6.6,0M1082.59,378.2a3.3,3.3 0 1,0 6.6,0a3.3,3.3 0 1,0 -6.6,0M1086.86,378.2a3.3,3.3 0 1,0 6.6,0a3.3,3.3 0 1,0 -6.6,0M1091.13,378.2a3.3,3.3 0 1,0 6.6,0a3.3,3.3 0 1,0 -6.6,0M1095.4,378.2a3.3,3.3 0 1,0 6.6,0a3.3,3.3 0 1,0 -6.6,0M1099.67,378.2a3.3,3.3 0 1,0 6.6,0a3.3,3.3 0 1,0 -6.6,0M1103.95,378.2a3.3,3.3 0 1,0 6.6,0a3.3,3.3 0 1,0 -6.6,0M1108.22,378.2a3.3,3.3 0 1,0 6.6,0a3.3,3.3 0 1,0 -6.6,0M1112.49,378.2a3.3,3.3 0 1,0 6.6,0a3.3,3.3 0 1,0 -6.6,0M1116.76,378.2a3.3,3.3 0 1,0 6.6,0a3.3,3.3 0 1,0 -6.6,0M1121.03,378.2a3.3,3.3 0 1,0 6.6,0a3.3,3.3 0 1,0 -6.6,0M1125.3,378.2a3.3,3.3 0 1,0 6.6,0a3.3,3.3 0 1,0 -6.6,0M1129.57,378.2a3.3,3.3 0 1,0 6.6,0a3.3,3.3 0 1,0 -6.6,0M1133.84,378.2a3.3,3.3 0 1,0 6.6,0a3.3,3.3 0 1,0 -6.6,0M1138.11,378.2a3.3,3.3 0 1,0 6.6,0a3.3,3.3 0 1,0 -6.6,0M1142.38,378.2a3.3,3.3 0 1,0 6.6,0a3.3,3.3 0 1,0 -6.6,0M1146.66,378.2a3.3,3.3 0 1,0 6.6,0a3.3,3.3 0 1,0 -6.6,0M1150.93,378.2a3.3,3.3 0 1,0 6.6,0a3.3,3.3 0 1,0 -6.6,0M1155.2,378.2a3.3,3.3 0 1,0 6.6,0a3.3,3.3 0 1,0 -6.6,0M1159.47,378.2a3.3,3.3 0 1,0 6.6,0a3.3,3.3 0 1,0 -6.6,0M1163.74,378.2a3.3,3.3 0 1,0 6.6,0a3.3,3.3 0 1,0 -6.6,0M1168.01,378.2a3.3,3.3 0 1,0 6.6,0a3.3,3.3 0 1,0 -6.6,0M1172.28,378.2a3.3,3.3 0 1,0 6.6,0a3.3,3.3 0 1,0 -6.6,0M1176.55,378.2a3.3,3.3 0 1,0 6.6,0a3.3,3.3 0 1,0 -6.6,0M1180.82,378.2a3.3,3.3 0 1,0 6.6,0a3.3,3.3 0 1,0 -6.6,0M1185.1,378.2a3.3,3.3 0 1,0 6.6,0a3.3,3.3 0 1,0 -6.6,0M1189.37,378.2a3.3,3.3 0 1,0 6.6,0a3.3,3.3 0 1,0 -6.6,0M1193.64,378.2a3.3,3.3 0 1,0 6.6,0a3.3,3.3 0 1,0 -6.6,0M1197.91,378.2a3.3,3.3 0 1,0 6.6,0a3.3,3.3 0 1,0 -6.6,0M1202.18,378.2a3.3,3.3 0 1,0 6.6,0a3.3,3.3 0 1,0 -6.6,0M1206.45,378.2a3.3,3.3 0 1,0 6.6,0a3.3,3.3 0 1,0 -6.6,0M1210.72,378.2a3.3,3.3 0 1,0 6.6,0a3.3,3.3 0 1,0 -6.6,0M1214.99,378.2a3.3,3.3 0 1,0 6.6,0a3.3,3.3 0 1,0 -6.6,0M1219.26,378.2a3.3,3.3 0 1,0 6.6,0a3.3,3.3 0 1,0 -6.6,0M1223.53,378.2a3.3,3.3 0 1,0 6.6,0a3.3,3.3 0 1,0 -6.6,0M1227.81,378.2a3.3,3.3 0 1,0 6.6,0a3.3,3.3 0 1,0 -6.6,0M1232.08,378.2a3.3,3.3 0 1,0 6.6,0a3.3,3.3 0 1,0 -6.6,0M1236.35,378.2a3.3,3.3 0 1,0 6.6,0a3.3,3.3 0 1,0 -6.6,0M1240.62,378.2a3.3,3.3 0 1,0 6.6,0a3.3,3.3 0 1,0 -6.6,0M1244.89,378.2a3.3,3.3 0 1,0 6.6,0a3.3,3.3 0 1,0 -6.6,0M1249.16,378.2a3.3,3.3 0 1,0 6.6,0a3.3,3.3 0 1,0 -6.6,0M1253.43,378.2a3.3,3.3 0 1,0 6.6,0a3.3,3.3 0 1,0 -6.6,0M1257.7,378.2a3.3,3.3 0 1,0 6.6,0a3.3,3.3 0 1,0 -6.6,0M1261.97,378.2a3.3,3.3 0 1,0 6.6,0a3.3,3.3 0 1,0 -6.6,0M1266.24,378.2a3.3,3.3 0 1,0 6.6,0a3.3,3.3 0 1,0 -6.6,0M1270.52,378.2a3.3,3.3 0 1,0 6.6,0a3.3,3.3 0 1,0 -6.6,0M1274.79,378.2a3.3,3.3 0 1,0 6.6,0a3.3,3.3 0 1,0 -6.6,0M1279.06,378.2a3.3,3.3 0 1,0 6.6,0a3.3,3.3 0 1,0 -6.6,0M1283.33,378.2a3.3,3.3 0 1,0 6.6,0a3.3,3.3 0 1,0 -6.6,0M1287.6,378.2a3.3,3.3 0 1,0 6.6,0a3.3,3.3 0 1,0 -6.6,0M1291.87,378.2a3.3,3.3 0 1,0 6.6,0a3.3,3.3 0 1,0 -6.6,0M1296.14,378.2a3.3,3.3 0 1,0 6.6,0a3.3,3.3 0 1,0 -6.6,0M1300.41,378.2a3.3,3.3 0 1,0 6.6,0a3.3,3.3 0 1,0 -6.6,0M1304.68,378.2a3.3,3.3 0 1,0 6.6,0a3.3,3.3 0 1,0 -6.6,0M1308.95,378.2a3.3,3.3 0 1,0 6.6,0a3.3,3.3 0 1,0 -6.6,0M1313.23,378.2a3.3,3.3 0 1,0 6.6,0a3.3,3.3 0 1,0 -6.6,0M1317.5,378.2a3.3,3.3 0 1,0 6.6,0a3.3,3.3 0 1,0 -6.6,0M1321.77,378.2a3.3,3.3 0 1,0 6.6,0a3.3,3.3 0 1,0 -6.6,0M1326.04,378.2a3.3,3.3 0 1,0 6.6,0a3.3,3.3 0 1,0 -6.6,0M1330.31,378.2a3.3,3.3 0 1,0 6.6,0a3.3,3.3 0 1,0 -6.6,0M1334.58,378.2a3.3,3.3 0 1,0 6.6,0a3.3,3.3 0 1,0 -6.6,0M1338.85,378.2a3.3,3.3 0 1,0 6.6,0a3.3,3.3 0 1,0 -6.6,0M1343.12,378.2a3.3,3.3 0 1,0 6.6,0a3.3,3.3 0 1,0 -6.6,0M1347.39,378.2a3.3,3.3 0 1,0 6.6,0a3.3,3.3 0 1,0 -6.6,0M1351.66,378.2a3.3,3.3 0 1,0 6.6,0a3.3,3.3 0 1,0 -6.6,0M1355.94,378.2a3.3,3.3 0 1,0 6.6,0a3.3,3.3 0 1,0 -6.6,0M1360.21,378.2a3.3,3.3 0 1,0 6.6,0a3.3,3.3 0 1,0 -6.6,0M1364.48,378.2a3.3,3.3 0 1,0 6.6,0a3.3,3.3 0 1,0 -6.6,0M1368.75,378.2a3.3,3.3 0 1,0 6.6,0a3.3,3.3 0 1,0 -6.6,0M1373.02,378.2a3.3,3.3 0 1,0 6.6,0a3.3,3.3 0 1,0 -6.6,0M1377.29,378.2a3.3,3.3 0 1,0 6.6,0a3.3,3.3 0 1,0 -6.6,0" fill="#2f4daa"/>
<path d="M1035.61,284.2a3.3,3.3 0 1,0 6.6,0a3.3,3.3 0 1,0 -6.6,0M1039.88,284.2a3.3,3.3 0 1,0 6.6,0a3.3,3.3 0 1,0 -6.6,0M1044.15,284.2a3.3,3.3 0 1,0 6.6,0a3.3,3.3 0 1,0 -6.6,0M1048.42,284.2a3.3,3.3 0 1,0 6.6,0a3.3,3.3 0 1,0 -6.6,0M1052.69,284.2a3.3,3.3 0 1,0 6.6,0a3.3,3.3 0 1,0 -6.6,0M1056.96,284.2a3.3,3.3 0 1,0 6.6,0a3.3,3.3 0 1,0 -6.6,0M1061.24,284.2a3.3,3.3 0 1,0 6.6,0a3.3,3.3 0 1,0 -6.6,0M1065.51,284.2a3.3,3.3 0 1,0 6.6,0a3.3,3.3 0 1,0 -6.6,0M1069.78,284.2a3.3,3.3 0 1,0 6.6,0a3.3,3.3 0 1,0 -6.6,0M1074.05,284.2a3.3,3.3 0 1,0 6.6,0a3.3,3.3 0 1,0 -6.6,0M1078.32,284.2a3.3,3.3 0 1,0 6.6,0a3.3,3.3 0 1,0 -6.6,0M1082.59,284.2a3.3,3.3 0 1,0 6.6,0a3.3,3.3 0 1,0 -6.6,0M1086.86,284.2a3.3,3.3 0 1,0 6.6,0a3.3,3.3 0 1,0 -6.6,0M1091.13,284.2a3.3,3.3 0 1,0 6.6,0a3.3,3.3 0 1,0 -6.6,0M1095.4,284.2a3.3,3.3 0 1,0 6.6,0a3.3,3.3 0 1,0 -6.6,0M1099.67,284.2a3.3,3.3 0 1,0 6.6,0a3.3,3.3 0 1,0 -6.6,0M1103.95,284.2a3.3,3.3 0 1,0 6.6,0a3.3,3.3 0 1,0 -6.6,0M1108.22,284.2a3.3,3.3 0 1,0 6.6,0a3.3,3.3 0 1,0 -6.6,0M1112.49,284.2a3.3,3.3 0 1,0 6.6,0a3.3,3.3 0 1,0 -6.6,0M1116.76,284.2a3.3,3.3 0 1,0 6.6,0a3.3,3.3 0 1,0 -6.6,0M1121.03,284.2a3.3,3.3 0 1,0 6.6,0a3.3,3.3 0 1,0 -6.6,0M1125.3,284.2a3.3,3.3 0 1,0 6.6,0a3.3,3.3 0 1,0 -6.6,0M1129.57,284.2a3.3,3.3 0 1,0 6.6,0a3.3,3.3 0 1,0 -6.6,0M1133.84,284.2a3.3,3.3 0 1,0 6.6,0a3.3,3.3 0 1,0 -6.6,0M1138.11,284.2a3.3,3.3 0 1,0 6.6,0a3.3,3.3 0 1,0 -6.6,0M1142.38,284.2a3.3,3.3 0 1,0 6.6,0a3.3,3.3 0 1,0 -6.6,0M1146.66,284.2a3.3,3.3 0 1,0 6.6,0a3.3,3.3 0 1,0 -6.6,0M1150.93,284.2a3.3,3.3 0 1,0 6.6,0a3.3,3.3 0 1,0 -6.6,0M1155.2,284.2a3.3,3.3 0 1,0 6.6,0a3.3,3.3 0 1,0 -6.6,0M1159.47,284.2a3.3,3.3 0 1,0 6.6,0a3.3,3.3 0 1,0 -6.6,0M1163.74,284.2a3.3,3.3 0 1,0 6.6,0a3.3,3.3 0 1,0 -6.6,0M1168.01,284.2a3.3,3.3 0 1,0 6.6,0a3.3,3.3 0 1,0 -6.6,0M1172.28,284.2a3.3,3.3 0 1,0 6.6,0a3.3,3.3 0 1,0 -6.6,0M1176.55,284.2a3.3,3.3 0 1,0 6.6,0a3.3,3.3 0 1,0 -6.6,0M1180.82,284.2a3.3,3.3 0 1,0 6.6,0a3.3,3.3 0 1,0 -6.6,0M1185.1,284.2a3.3,3.3 0 1,0 6.6,0a3.3,3.3 0 1,0 -6.6,0M1189.37,284.2a3.3,3.3 0 1,0 6.6,0a3.3,3.3 0 1,0 -6.6,0M1193.64,284.2a3.3,3.3 0 1,0 6.6,0a3.3,3.3 0 1,0 -6.6,0M1197.91,284.2a3.3,3.3 0 1,0 6.6,0a3.3,3.3 0 1,0 -6.6,0M1202.18,284.2a3.3,3.3 0 1,0 6.6,0a3.3,3.3 0 1,0 -6.6,0M1206.45,284.2a3.3,3.3 0 1,0 6.6,0a3.3,3.3 0 1,0 -6.6,0M1210.72,284.2a3.3,3.3 0 1,0 6.6,0a3.3,3.3 0 1,0 -6.6,0M1214.99,284.2a3.3,3.3 0 1,0 6.6,0a3.3,3.3 0 1,0 -6.6,0M1219.26,284.2a3.3,3.3 0 1,0 6.6,0a3.3,3.3 0 1,0 -6.6,0M1223.53,284.2a3.3,3.3 0 1,0 6.6,0a3.3,3.3 0 1,0 -6.6,0M1227.81,284.2a3.3,3.3 0 1,0 6.6,0a3.3,3.3 0 1,0 -6.6,0M1232.08,284.2a3.3,3.3 0 1,0 6.6,0a3.3,3.3 0 1,0 -6.6,0M1236.35,284.2a3.3,3.3 0 1,0 6.6,0a3.3,3.3 0 1,0 -6.6,0M1240.62,284.2a3.3,3.3 0 1,0 6.6,0a3.3,3.3 0 1,0 -6.6,0M1244.89,284.2a3.3,3.3 0 1,0 6.6,0a3.3,3.3 0 1,0 -6.6,0M1249.16,284.2a3.3,3.3 0 1,0 6.6,0a3.3,3.3 0 1,0 -6.6,0M1253.43,284.2a3.3,3.3 0 1,0 6.6,0a3.3,3.3 0 1,0 -6.6,0M1257.7,284.2a3.3,3.3 0 1,0 6.6,0a3.3,3.3 0 1,0 -6.6,0M1261.97,284.2a3.3,3.3 0 1,0 6.6,0a3.3,3.3 0 1,0 -6.6,0M1266.24,284.2a3.3,3.3 0 1,0 6.6,0a3.3,3.3 0 1,0 -6.6,0M1270.52,284.2a3.3,3.3 0 1,0 6.6,0a3.3,3.3 0 1,0 -6.6,0M1274.79,284.2a3.3,3.3 0 1,0 6.6,0a3.3,3.3 0 1,0 -6.6,0M1279.06,284.2a3.3,3.3 0 1,0 6.6,0a3.3,3.3 0 1,0 -6.6,0M1283.33,284.2a3.3,3.3 0 1,0 6.6,0a3.3,3.3 0 1,0 -6.6,0M1287.6,284.2a3.3,3.3 0 1,0 6.6,0a3.3,3.3 0 1,0 -6.6,0M1291.87,284.2a3.3,3.3 0 1,0 6.6,0a3.3,3.3 0 1,0 -6.6,0M1296.14,284.2a3.3,3.3 0 1,0 6.6,0a3.3,3.3 0 1,0 -6.6,0M1300.41,284.2a3.3,3.3 0 1,0 6.6,0a3.3,3.3 0 1,0 -6.6,0M1304.68,284.2a3.3,3.3 0 1,0 6.6,0a3.3,3.3 0 1,0 -6.6,0" fill="#2f4daa"/>
<path d="M1035.61,287a3.3,3.3 0 1,0 6.6,0a3.3,3.3 0 1,0 -6.6,0M1039.88,287.75a3.3,3.3 0 1,0 6.6,0a3.3,3.3 0 1,0 -6.6,0M1044.15,288.5a3.3,3.3 0 1,0 6.6,0a3.3,3.3 0 1,0 -6.6,0M1048.42,289.25a3.3,3.3 0 1,0 6.6,0a3.3,3.3 0 1,0 -6.6,0M1052.69,290a3.3,3.3 0 1,0 6.6,0a3.3,3.3 0 1,0 -6.6,0M1056.96,290.75a3.3,3.3 0 1,0 6.6,0a3.3,3.3 0 1,0 -6.6,0M1061.24,291.5a3.3,3.3 0 1,0 6.6,0a3.3,3.3 0 1,0 -6.6,0" fill="#2f4daa"/>
<path d="M1308.95,289.7a3.3,3.3 0 1,0 6.6,0a3.3,3.3 0 1,0 -6.6,0M1313.23,289.3a3.3,3.3 0 1,0 6.6,0a3.3,3.3 0 1,0 -6.6,0M1317.5,283.4a3.3,3.3 0 1,0 6.6,0a3.3,3.3 0 1,0 -6.6,0M1321.77,283.4a3.3,3.3 0 1,0 6.6,0a3.3,3.3 0 1,0 -6.6,0M1326.04,288.2a3.3,3.3 0 1,0 6.6,0a3.3,3.3 0 1,0 -6.6,0M1330.31,300.4a3.3,3.3 0 1,0 6.6,0a3.3,3.3 0 1,0 -6.6,0M1334.58,306.6a3.3,3.3 0 1,0 6.6,0a3.3,3.3 0 1,0 -6.6,0M1338.85,328.1a3.3,3.3 0 1,0 6.6,0a3.3,3.3 0 1,0 -6.6,0M1343.12,368.3a3.3,3.3 0 1,0 6.6,0a3.3,3.3 0 1,0 -6.6,0M1347.39,369.5a3.3,3.3 0 1,0 6.6,0a3.3,3.3 0 1,0 -6.6,0M1351.66,370.5a3.3,3.3 0 1,0 6.6,0a3.3,3.3 0 1,0 -6.6,0M1355.94,371.5a3.3,3.3 0 1,0 6.6,0a3.3,3.3 0 1,0 -6.6,0M1360.21,372.5a3.3,3.3 0 1,0 6.6,0a3.3,3.3 0 1,0 -6.6,0M1364.48,373.5a3.3,3.3 0 1,0 6.6,0a3.3,3.3 0 1,0 -6.6,0M1368.75,374.5a3.3,3.3 0 1,0 6.6,0a3.3,3.3 0 1,0 -6.6,0M1373.02,375.8a3.3,3.3 0 1,0 6.6,0a3.3,3.3 0 1,0 -6.6,0M1377.29,377a3.3,3.3 0 1,0 6.6,0a3.3,3.3 0 1,0 -6.6,0" fill="#2f4daa"/>
<polyline points="1038.91,407.9 1043.18,408.7 1047.45,409.5 1051.72,410.3 1055.99,411.1 1056.5,416 1060,490.2 1060.26,494.6" fill="none" stroke="#e82222" stroke-width="1.3" stroke-linejoin="round" />
<polyline points="1312.25,403.4 1316.53,406 1320.8,408.5 1325.07,411.5 1329.34,402.9 1333.61,402.9 1337.88,402.9 1342.15,423.1 1346.42,437.9 1350.69,433.5 1354.96,485.6 1359.24,486 1363.51,486.5 1367.78,487 1372.05,487.5 1376.32,488.5 1380.59,494.6" fill="none" stroke="#e82222" stroke-width="1.3" stroke-linejoin="round" />
<path d="M1056.96,494.6a3.3,3.3 0 1,0 6.6,0a3.3,3.3 0 1,0 -6.6,0M1061.24,494.6a3.3,3.3 0 1,0 6.6,0a3.3,3.3 0 1,0 -6.6,0M1065.51,494.6a3.3,3.3 0 1,0 6.6,0a3.3,3.3 0 1,0 -6.6,0M1069.78,494.6a3.3,3.3 0 1,0 6.6,0a3.3,3.3 0 1,0 -6.6,0M1074.05,494.6a3.3,3.3 0 1,0 6.6,0a3.3,3.3 0 1,0 -6.6,0M1078.32,494.6a3.3,3.3 0 1,0 6.6,0a3.3,3.3 0 1,0 -6.6,0M1082.59,494.6a3.3,3.3 0 1,0 6.6,0a3.3,3.3 0 1,0 -6.6,0M1086.86,494.6a3.3,3.3 0 1,0 6.6,0a3.3,3.3 0 1,0 -6.6,0M1091.13,494.6a3.3,3.3 0 1,0 6.6,0a3.3,3.3 0 1,0 -6.6,0M1095.4,494.6a3.3,3.3 0 1,0 6.6,0a3.3,3.3 0 1,0 -6.6,0M1099.67,494.6a3.3,3.3 0 1,0 6.6,0a3.3,3.3 0 1,0 -6.6,0M1103.95,494.6a3.3,3.3 0 1,0 6.6,0a3.3,3.3 0 1,0 -6.6,0M1108.22,494.6a3.3,3.3 0 1,0 6.6,0a3.3,3.3 0 1,0 -6.6,0M1112.49,494.6a3.3,3.3 0 1,0 6.6,0a3.3,3.3 0 1,0 -6.6,0M1116.76,494.6a3.3,3.3 0 1,0 6.6,0a3.3,3.3 0 1,0 -6.6,0M1121.03,494.6a3.3,3.3 0 1,0 6.6,0a3.3,3.3 0 1,0 -6.6,0M1125.3,494.6a3.3,3.3 0 1,0 6.6,0a3.3,3.3 0 1,0 -6.6,0M1129.57,494.6a3.3,3.3 0 1,0 6.6,0a3.3,3.3 0 1,0 -6.6,0M1133.84,494.6a3.3,3.3 0 1,0 6.6,0a3.3,3.3 0 1,0 -6.6,0M1138.11,494.6a3.3,3.3 0 1,0 6.6,0a3.3,3.3 0 1,0 -6.6,0M1142.38,494.6a3.3,3.3 0 1,0 6.6,0a3.3,3.3 0 1,0 -6.6,0M1146.66,494.6a3.3,3.3 0 1,0 6.6,0a3.3,3.3 0 1,0 -6.6,0M1150.93,494.6a3.3,3.3 0 1,0 6.6,0a3.3,3.3 0 1,0 -6.6,0M1155.2,494.6a3.3,3.3 0 1,0 6.6,0a3.3,3.3 0 1,0 -6.6,0M1159.47,494.6a3.3,3.3 0 1,0 6.6,0a3.3,3.3 0 1,0 -6.6,0M1163.74,494.6a3.3,3.3 0 1,0 6.6,0a3.3,3.3 0 1,0 -6.6,0M1168.01,494.6a3.3,3.3 0 1,0 6.6,0a3.3,3.3 0 1,0 -6.6,0M1172.28,494.6a3.3,3.3 0 1,0 6.6,0a3.3,3.3 0 1,0 -6.6,0M1176.55,494.6a3.3,3.3 0 1,0 6.6,0a3.3,3.3 0 1,0 -6.6,0M1180.82,494.6a3.3,3.3 0 1,0 6.6,0a3.3,3.3 0 1,0 -6.6,0M1185.1,494.6a3.3,3.3 0 1,0 6.6,0a3.3,3.3 0 1,0 -6.6,0M1189.37,494.6a3.3,3.3 0 1,0 6.6,0a3.3,3.3 0 1,0 -6.6,0M1193.64,494.6a3.3,3.3 0 1,0 6.6,0a3.3,3.3 0 1,0 -6.6,0M1197.91,494.6a3.3,3.3 0 1,0 6.6,0a3.3,3.3 0 1,0 -6.6,0M1202.18,494.6a3.3,3.3 0 1,0 6.6,0a3.3,3.3 0 1,0 -6.6,0M1206.45,494.6a3.3,3.3 0 1,0 6.6,0a3.3,3.3 0 1,0 -6.6,0M1210.72,494.6a3.3,3.3 0 1,0 6.6,0a3.3,3.3 0 1,0 -6.6,0M1214.99,494.6a3.3,3.3 0 1,0 6.6,0a3.3,3.3 0 1,0 -6.6,0M1219.26,494.6a3.3,3.3 0 1,0 6.6,0a3.3,3.3 0 1,0 -6.6,0M1223.53,494.6a3.3,3.3 0 1,0 6.6,0a3.3,3.3 0 1,0 -6.6,0M1227.81,494.6a3.3,3.3 0 1,0 6.6,0a3.3,3.3 0 1,0 -6.6,0M1232.08,494.6a3.3,3.3 0 1,0 6.6,0a3.3,3.3 0 1,0 -6.6,0M1236.35,494.6a3.3,3.3 0 1,0 6.6,0a3.3,3.3 0 1,0 -6.6,0M1240.62,494.6a3.3,3.3 0 1,0 6.6,0a3.3,3.3 0 1,0 -6.6,0M1244.89,494.6a3.3,3.3 0 1,0 6.6,0a3.3,3.3 0 1,0 -6.6,0M1249.16,494.6a3.3,3.3 0 1,0 6.6,0a3.3,3.3 0 1,0 -6.6,0M1253.43,494.6a3.3,3.3 0 1,0 6.6,0a3.3,3.3 0 1,0 -6.6,0M1257.7,494.6a3.3,3.3 0 1,0 6.6,0a3.3,3.3 0 1,0 -6.6,0M1261.97,494.6a3.3,3.3 0 1,0 6.6,0a3.3,3.3 0 1,0 -6.6,0M1266.24,494.6a3.3,3.3 0 1,0 6.6,0a3.3,3.3 0 1,0 -6.6,0M1270.52,494.6a3.3,3.3 0 1,0 6.6,0a3.3,3.3 0 1,0 -6.6,0M1274.79,494.6a3.3,3.3 0 1,0 6.6,0a3.3,3.3 0 1,0 -6.6,0M1279.06,494.6a3.3,3.3 0 1,0 6.6,0a3.3,3.3 0 1,0 -6.6,0M1283.33,494.6a3.3,3.3 0 1,0 6.6,0a3.3,3.3 0 1,0 -6.6,0M1287.6,494.6a3.3,3.3 0 1,0 6.6,0a3.3,3.3 0 1,0 -6.6,0M1291.87,494.6a3.3,3.3 0 1,0 6.6,0a3.3,3.3 0 1,0 -6.6,0M1296.14,494.6a3.3,3.3 0 1,0 6.6,0a3.3,3.3 0 1,0 -6.6,0M1300.41,494.6a3.3,3.3 0 1,0 6.6,0a3.3,3.3 0 1,0 -6.6,0M1304.68,494.6a3.3,3.3 0 1,0 6.6,0a3.3,3.3 0 1,0 -6.6,0M1308.95,494.6a3.3,3.3 0 1,0 6.6,0a3.3,3.3 0 1,0 -6.6,0M1313.23,494.6a3.3,3.3 0 1,0 6.6,0a3.3,3.3 0 1,0 -6.6,0M1317.5,494.6a3.3,3.3 0 1,0 6.6,0a3.3,3.3 0 1,0 -6.6,0M1321.77,494.6a3.3,3.3 0 1,0 6.6,0a3.3,3.3 0 1,0 -6.6,0M1326.04,494.6a3.3,3.3 0 1,0 6.6,0a3.3,3.3 0 1,0 -6.6,0M1330.31,494.6a3.3,3.3 0 1,0 6.6,0a3.3,3.3 0 1,0 -6.6,0M1334.58,494.6a3.3,3.3 0 1,0 6.6,0a3.3,3.3 0 1,0 -6.6,0M1338.85,494.6a3.3,3.3 0 1,0 6.6,0a3.3,3.3 0 1,0 -6.6,0M1343.12,494.6a3.3,3.3 0 1,0 6.6,0a3.3,3.3 0 1,0 -6.6,0M1347.39,494.6a3.3,3.3 0 1,0 6.6,0a3.3,3.3 0 1,0 -6.6,0M1351.66,494.6a3.3,3.3 0 1,0 6.6,0a3.3,3.3 0 1,0 -6.6,0M1355.94,494.6a3.3,3.3 0 1,0 6.6,0a3.3,3.3 0 1,0 -6.6,0M1360.21,494.6a3.3,3.3 0 1,0 6.6,0a3.3,3.3 0 1,0 -6.6,0M1364.48,494.6a3.3,3.3 0 1,0 6.6,0a3.3,3.3 0 1,0 -6.6,0M1368.75,494.6a3.3,3.3 0 1,0 6.6,0a3.3,3.3 0 1,0 -6.6,0M1373.02,494.6a3.3,3.3 0 1,0 6.6,0a3.3,3.3 0 1,0 -6.6,0M1377.29,494.6a3.3,3.3 0 1,0 6.6,0a3.3,3.3 0 1,0 -6.6,0" fill="#e82222"/>
<path d="M1035.61,403.4a3.3,3.3 0 1,0 6.6,0a3.3,3.3 0 1,0 -6.6,0M1039.88,403.4a3.3,3.3 0 1,0 6.6,0a3.3,3.3 0 1,0 -6.6,0M1044.15,403.4a3.3,3.3 0 1,0 6.6,0a3.3,3.3 0 1,0 -6.6,0M1048.42,403.4a3.3,3.3 0 1,0 6.6,0a3.3,3.3 0 1,0 -6.6,0M1052.69,403.4a3.3,3.3 0 1,0 6.6,0a3.3,3.3 0 1,0 -6.6,0M1056.96,403.4a3.3,3.3 0 1,0 6.6,0a3.3,3.3 0 1,0 -6.6,0M1061.24,403.4a3.3,3.3 0 1,0 6.6,0a3.3,3.3 0 1,0 -6.6,0M1065.51,403.4a3.3,3.3 0 1,0 6.6,0a3.3,3.3 0 1,0 -6.6,0M1069.78,403.4a3.3,3.3 0 1,0 6.6,0a3.3,3.3 0 1,0 -6.6,0M1074.05,403.4a3.3,3.3 0 1,0 6.6,0a3.3,3.3 0 1,0 -6.6,0M1078.32,403.4a3.3,3.3 0 1,0 6.6,0a3.3,3.3 0 1,0 -6.6,0M1082.59,403.4a3.3,3.3 0 1,0 6.6,0a3.3,3.3 0 1,0 -6.6,0M1086.86,403.4a3.3,3.3 0 1,0 6.6,0a3.3,3.3 0 1,0 -6.6,0M1091.13,403.4a3.3,3.3 0 1,0 6.6,0a3.3,3.3 0 1,0 -6.6,0M1095.4,403.4a3.3,3.3 0 1,0 6.6,0a3.3,3.3 0 1,0 -6.6,0M1099.67,403.4a3.3,3.3 0 1,0 6.6,0a3.3,3.3 0 1,0 -6.6,0M1103.95,403.4a3.3,3.3 0 1,0 6.6,0a3.3,3.3 0 1,0 -6.6,0M1108.22,403.4a3.3,3.3 0 1,0 6.6,0a3.3,3.3 0 1,0 -6.6,0M1112.49,403.4a3.3,3.3 0 1,0 6.6,0a3.3,3.3 0 1,0 -6.6,0M1116.76,403.4a3.3,3.3 0 1,0 6.6,0a3.3,3.3 0 1,0 -6.6,0M1121.03,403.4a3.3,3.3 0 1,0 6.6,0a3.3,3.3 0 1,0 -6.6,0M1125.3,403.4a3.3,3.3 0 1,0 6.6,0a3.3,3.3 0 1,0 -6.6,0M1129.57,403.4a3.3,3.3 0 1,0 6.6,0a3.3,3.3 0 1,0 -6.6,0M1133.84,403.4a3.3,3.3 0 1,0 6.6,0a3.3,3.3 0 1,0 -6.6,0M1138.11,403.4a3.3,3.3 0 1,0 6.6,0a3.3,3.3 0 1,0 -6.6,0M1142.38,403.4a3.3,3.3 0 1,0 6.6,0a3.3,3.3 0 1,0 -6.6,0M1146.66,403.4a3.3,3.3 0 1,0 6.6,0a3.3,3.3 0 1,0 -6.6,0M1150.93,403.4a3.3,3.3 0 1,0 6.6,0a3.3,3.3 0 1,0 -6.6,0M1155.2,403.4a3.3,3.3 0 1,0 6.6,0a3.3,3.3 0 1,0 -6.6,0M1159.47,403.4a3.3,3.3 0 1,0 6.6,0a3.3,3.3 0 1,0 -6.6,0M1163.74,403.4a3.3,3.3 0 1,0 6.6,0a3.3,3.3 0 1,0 -6.6,0M1168.01,403.4a3.3,3.3 0 1,0 6.6,0a3.3,3.3 0 1,0 -6.6,0M1172.28,403.4a3.3,3.3 0 1,0 6.6,0a3.3,3.3 0 1,0 -6.6,0M1176.55,403.4a3.3,3.3 0 1,0 6.6,0a3.3,3.3 0 1,0 -6.6,0M1180.82,403.4a3.3,3.3 0 1,0 6.6,0a3.3,3.3 0 1,0 -6.6,0M1185.1,403.4a3.3,3.3 0 1,0 6.6,0a3.3,3.3 0 1,0 -6.6,0M1189.37,403.4a3.3,3.3 0 1,0 6.6,0a3.3,3.3 0 1,0 -6.6,0M1193.64,403.4a3.3,3.3 0 1,0 6.6,0a3.3,3.3 0 1,0 -6.6,0M1197.91,403.4a3.3,3.3 0 1,0 6.6,0a3.3,3.3 0 1,0 -6.6,0M1202.18,403.4a3.3,3.3 0 1,0 6.6,0a3.3,3.3 0 1,0 -6.6,0M1206.45,403.4a3.3,3.3 0 1,0 6.6,0a3.3,3.3 0 1,0 -6.6,0M1210.72,403.4a3.3,3.3 0 1,0 6.6,0a3.3,3.3 0 1,0 -6.6,0M1214.99,403.4a3.3,3.3 0 1,0 6.6,0a3.3,3.3 0 1,0 -6.6,0M1219.26,403.4a3.3,3.3 0 1,0 6.6,0a3.3,3.3 0 1,0 -6.6,0M1223.53,403.4a3.3,3.3 0 1,0 6.6,0a3.3,3.3 0 1,0 -6.6,0M1227.81,403.4a3.3,3.3 0 1,0 6.6,0a3.3,3.3 0 1,0 -6.6,0M1232.08,403.4a3.3,3.3 0 1,0 6.6,0a3.3,3.3 0 1,0 -6.6,0M1236.35,403.4a3.3,3.3 0 1,0 6.6,0a3.3,3.3 0 1,0 -6.6,0M1240.62,403.4a3.3,3.3 0 1,0 6.6,0a3.3,3.3 0 1,0 -6.6,0M1244.89,403.4a3.3,3.3 0 1,0 6.6,0a3.3,3.3 0 1,0 -6.6,0M1249.16,403.4a3.3,3.3 0 1,0 6.6,0a3.3,3.3 0 1,0 -6.6,0M1253.43,403.4a3.3,3.3 0 1,0 6.6,0a3.3,3.3 0 1,0 -6.6,0M1257.7,403.4a3.3,3.3 0 1,0 6.6,0a3.3,3.3 0 1,0 -6.6,0M1261.97,403.4a3.3,3.3 0 1,0 6.6,0a3.3,3.3 0 1,0 -6.6,0M1266.24,403.4a3.3,3.3 0 1,0 6.6,0a3.3,3.3 0 1,0 -6.6,0M1270.52,403.4a3.3,3.3 0 1,0 6.6,0a3.3,3.3 0 1,0 -6.6,0M1274.79,403.4a3.3,3.3 0 1,0 6.6,0a3.3,3.3 0 1,0 -6.6,0M1279.06,403.4a3.3,3.3 0 1,0 6.6,0a3.3,3.3 0 1,0 -6.6,0M1283.33,403.4a3.3,3.3 0 1,0 6.6,0a3.3,3.3 0 1,0 -6.6,0M1287.6,403.4a3.3,3.3 0 1,0 6.6,0a3.3,3.3 0 1,0 -6.6,0M1291.87,403.4a3.3,3.3 0 1,0 6.6,0a3.3,3.3 0 1,0 -6.6,0M1296.14,403.4a3.3,3.3 0 1,0 6.6,0a3.3,3.3 0 1,0 -6.6,0M1300.41,403.4a3.3,3.3 0 1,0 6.6,0a3.3,3.3 0 1,0 -6.6,0M1304.68,403.4a3.3,3.3 0 1,0 6.6,0a3.3,3.3 0 1,0 -6.6,0M1308.95,403.4a3.3,3.3 0 1,0 6.6,0a3.3,3.3 0 1,0 -6.6,0" fill="#e82222"/>
<path d="M1035.61,407.9a3.3,3.3 0 1,0 6.6,0a3.3,3.3 0 1,0 -6.6,0M1039.88,408.7a3.3,3.3 0 1,0 6.6,0a3.3,3.3 0 1,0 -6.6,0M1044.15,409.5a3.3,3.3 0 1,0 6.6,0a3.3,3.3 0 1,0 -6.6,0M1048.42,410.3a3.3,3.3 0 1,0 6.6,0a3.3,3.3 0 1,0 -6.6,0M1052.69,411.1a3.3,3.3 0 1,0 6.6,0a3.3,3.3 0 1,0 -6.6,0" fill="#e82222"/>
<path d="M1313.23,406a3.3,3.3 0 1,0 6.6,0a3.3,3.3 0 1,0 -6.6,0M1317.5,408.5a3.3,3.3 0 1,0 6.6,0a3.3,3.3 0 1,0 -6.6,0M1321.77,411.5a3.3,3.3 0 1,0 6.6,0a3.3,3.3 0 1,0 -6.6,0M1326.04,402.9a3.3,3.3 0 1,0 6.6,0a3.3,3.3 0 1,0 -6.6,0M1330.31,402.9a3.3,3.3 0 1,0 6.6,0a3.3,3.3 0 1,0 -6.6,0M1334.58,402.9a3.3,3.3 0 1,0 6.6,0a3.3,3.3 0 1,0 -6.6,0M1338.85,423.1a3.3,3.3 0 1,0 6.6,0a3.3,3.3 0 1,0 -6.6,0M1343.12,437.9a3.3,3.3 0 1,0 6.6,0a3.3,3.3 0 1,0 -6.6,0M1347.39,433.5a3.3,3.3 0 1,0 6.6,0a3.3,3.3 0 1,0 -6.6,0M1351.66,485.6a3.3,3.3 0 1,0 6.6,0a3.3,3.3 0 1,0 -6.6,0M1355.94,486a3.3,3.3 0 1,0 6.6,0a3.3,3.3 0 1,0 -6.6,0M1360.21,486.5a3.3,3.3 0 1,0 6.6,0a3.3,3.3 0 1,0 -6.6,0M1364.48,487a3.3,3.3 0 1,0 6.6,0a3.3,3.3 0 1,0 -6.6,0M1368.75,487.5a3.3,3.3 0 1,0 6.6,0a3.3,3.3 0 1,0 -6.6,0M1373.02,488.5a3.3,3.3 0 1,0 6.6,0a3.3,3.3 0 1,0 -6.6,0M1377.29,494.6a3.3,3.3 0 1,0 6.6,0a3.3,3.3 0 1,0 -6.6,0" fill="#e82222"/>
<polyline points="1038.91,528.3 1043.18,530.05 1047.45,531.8 1047,535.4 1051.5,608.8 1051.72,612.9" fill="none" stroke="#111" stroke-width="1.3" stroke-linejoin="round" />
<polyline points="1320.8,523.8 1325.07,529.1 1329.34,531.8 1333.61,531.5 1337.88,526.5 1342.15,526.5 1346.42,523.4 1350.69,544.3 1354.96,547.9 1359.24,558.3 1363.51,602.4 1367.78,603.3 1372.05,603.3 1376.32,603.3 1380.59,596.5" fill="none" stroke="#111" stroke-width="1.3" stroke-linejoin="round" />
<path d="M1048.42,612.9a3.3,3.3 0 1,0 6.6,0a3.3,3.3 0 1,0 -6.6,0M1052.69,612.9a3.3,3.3 0 1,0 6.6,0a3.3,3.3 0 1,0 -6.6,0M1056.96,612.9a3.3,3.3 0 1,0 6.6,0a3.3,3.3 0 1,0 -6.6,0M1061.24,612.9a3.3,3.3 0 1,0 6.6,0a3.3,3.3 0 1,0 -6.6,0M1065.51,612.9a3.3,3.3 0 1,0 6.6,0a3.3,3.3 0 1,0 -6.6,0M1069.78,612.9a3.3,3.3 0 1,0 6.6,0a3.3,3.3 0 1,0 -6.6,0M1074.05,612.9a3.3,3.3 0 1,0 6.6,0a3.3,3.3 0 1,0 -6.6,0M1078.32,612.9a3.3,3.3 0 1,0 6.6,0a3.3,3.3 0 1,0 -6.6,0M1082.59,612.9a3.3,3.3 0 1,0 6.6,0a3.3,3.3 0 1,0 -6.6,0M1086.86,612.9a3.3,3.3 0 1,0 6.6,0a3.3,3.3 0 1,0 -6.6,0M1091.13,612.9a3.3,3.3 0 1,0 6.6,0a3.3,3.3 0 1,0 -6.6,0M1095.4,612.9a3.3,3.3 0 1,0 6.6,0a3.3,3.3 0 1,0 -6.6,0M1099.67,612.9a3.3,3.3 0 1,0 6.6,0a3.3,3.3 0 1,0 -6.6,0M1103.95,612.9a3.3,3.3 0 1,0 6.6,0a3.3,3.3 0 1,0 -6.6,0M1108.22,612.9a3.3,3.3 0 1,0 6.6,0a3.3,3.3 0 1,0 -6.6,0M1112.49,612.9a3.3,3.3 0 1,0 6.6,0a3.3,3.3 0 1,0 -6.6,0M1116.76,612.9a3.3,3.3 0 1,0 6.6,0a3.3,3.3 0 1,0 -6.6,0M1121.03,612.9a3.3,3.3 0 1,0 6.6,0a3.3,3.3 0 1,0 -6.6,0M1125.3,612.9a3.3,3.3 0 1,0 6.6,0a3.3,3.3 0 1,0 -6.6,0M1129.57,612.9a3.3,3.3 0 1,0 6.6,0a3.3,3.3 0 1,0 -6.6,0M1133.84,612.9a3.3,3.3 0 1,0 6.6,0a3.3,3.3 0 1,0 -6.6,0M1138.11,612.9a3.3,3.3 0 1,0 6.6,0a3.3,3.3 0 1,0 -6.6,0M1142.38,612.9a3.3,3.3 0 1,0 6.6,0a3.3,3.3 0 1,0 -6.6,0M1146.66,612.9a3.3,3.3 0 1,0 6.6,0a3.3,3.3 0 1,0 -6.6,0M1150.93,612.9a3.3,3.3 0 1,0 6.6,0a3.3,3.3 0 1,0 -6.6,0M1155.2,612.9a3.3,3.3 0 1,0 6.6,0a3.3,3.3 0 1,0 -6.6,0M1159.47,612.9a3.3,3.3 0 1,0 6.6,0a3.3,3.3 0 1,0 -6.6,0M1163.74,612.9a3.3,3.3 0 1,0 6.6,0a3.3,3.3 0 1,0 -6.6,0M1168.01,612.9a3.3,3.3 0 1,0 6.6,0a3.3,3.3 0 1,0 -6.6,0M1172.28,612.9a3.3,3.3 0 1,0 6.6,0a3.3,3.3 0 1,0 -6.6,0M1176.55,612.9a3.3,3.3 0 1,0 6.6,0a3.3,3.3 0 1,0 -6.6,0M1180.82,612.9a3.3,3.3 0 1,0 6.6,0a3.3,3.3 0 1,0 -6.6,0M1185.1,612.9a3.3,3.3 0 1,0 6.6,0a3.3,3.3 0 1,0 -6.6,0M1189.37,612.9a3.3,3.3 0 1,0 6.6,0a3.3,3.3 0 1,0 -6.6,0M1193.64,612.9a3.3,3.3 0 1,0 6.6,0a3.3,3.3 0 1,0 -6.6,0M1197.91,612.9a3.3,3.3 0 1,0 6.6,0a3.3,3.3 0 1,0 -6.6,0M1202.18,612.9a3.3,3.3 0 1,0 6.6,0a3.3,3.3 0 1,0 -6.6,0M1206.45,612.9a3.3,3.3 0 1,0 6.6,0a3.3,3.3 0 1,0 -6.6,0M1210.72,612.9a3.3,3.3 0 1,0 6.6,0a3.3,3.3 0 1,0 -6.6,0M1214.99,612.9a3.3,3.3 0 1,0 6.6,0a3.3,3.3 0 1,0 -6.6,0M1219.26,612.9a3.3,3.3 0 1,0 6.6,0a3.3,3.3 0 1,0 -6.6,0M1223.53,612.9a3.3,3.3 0 1,0 6.6,0a3.3,3.3 0 1,0 -6.6,0M1227.81,612.9a3.3,3.3 0 1,0 6.6,0a3.3,3.3 0 1,0 -6.6,0M1232.08,612.9a3.3,3.3 0 1,0 6.6,0a3.3,3.3 0 1,0 -6.6,0M1236.35,612.9a3.3,3.3 0 1,0 6.6,0a3.3,3.3 0 1,0 -6.6,0M1240.62,612.9a3.3,3.3 0 1,0 6.6,0a3.3,3.3 0 1,0 -6.6,0M1244.89,612.9a3.3,3.3 0 1,0 6.6,0a3.3,3.3 0 1,0 -6.6,0M1249.16,612.9a3.3,3.3 0 1,0 6.6,0a3.3,3.3 0 1,0 -6.6,0M1253.43,612.9a3.3,3.3 0 1,0 6.6,0a3.3,3.3 0 1,0 -6.6,0M1257.7,612.9a3.3,3.3 0 1,0 6.6,0a3.3,3.3 0 1,0 -6.6,0M1261.97,612.9a3.3,3.3 0 1,0 6.6,0a3.3,3.3 0 1,0 -6.6,0M1266.24,612.9a3.3,3.3 0 1,0 6.6,0a3.3,3.3 0 1,0 -6.6,0M1270.52,612.9a3.3,3.3 0 1,0 6.6,0a3.3,3.3 0 1,0 -6.6,0M1274.79,612.9a3.3,3.3 0 1,0 6.6,0a3.3,3.3 0 1,0 -6.6,0M1279.06,612.9a3.3,3.3 0 1,0 6.6,0a3.3,3.3 0 1,0 -6.6,0M1283.33,612.9a3.3,3.3 0 1,0 6.6,0a3.3,3.3 0 1,0 -6.6,0M1287.6,612.9a3.3,3.3 0 1,0 6.6,0a3.3,3.3 0 1,0 -6.6,0M1291.87,612.9a3.3,3.3 0 1,0 6.6,0a3.3,3.3 0 1,0 -6.6,0M1296.14,612.9a3.3,3.3 0 1,0 6.6,0a3.3,3.3 0 1,0 -6.6,0M1300.41,612.9a3.3,3.3 0 1,0 6.6,0a3.3,3.3 0 1,0 -6.6,0M1304.68,612.9a3.3,3.3 0 1,0 6.6,0a3.3,3.3 0 1,0 -6.6,0M1308.95,612.9a3.3,3.3 0 1,0 6.6,0a3.3,3.3 0 1,0 -6.6,0M1313.23,612.9a3.3,3.3 0 1,0 6.6,0a3.3,3.3 0 1,0 -6.6,0M1317.5,612.9a3.3,3.3 0 1,0 6.6,0a3.3,3.3 0 1,0 -6.6,0M1321.77,612.9a3.3,3.3 0 1,0 6.6,0a3.3,3.3 0 1,0 -6.6,0M1326.04,612.9a3.3,3.3 0 1,0 6.6,0a3.3,3.3 0 1,0 -6.6,0M1330.31,612.9a3.3,3.3 0 1,0 6.6,0a3.3,3.3 0 1,0 -6.6,0M1334.58,612.9a3.3,3.3 0 1,0 6.6,0a3.3,3.3 0 1,0 -6.6,0M1338.85,612.9a3.3,3.3 0 1,0 6.6,0a3.3,3.3 0 1,0 -6.6,0M1343.12,612.9a3.3,3.3 0 1,0 6.6,0a3.3,3.3 0 1,0 -6.6,0M1347.39,612.9a3.3,3.3 0 1,0 6.6,0a3.3,3.3 0 1,0 -6.6,0M1351.66,612.9a3.3,3.3 0 1,0 6.6,0a3.3,3.3 0 1,0 -6.6,0M1355.94,612.9a3.3,3.3 0 1,0 6.6,0a3.3,3.3 0 1,0 -6.6,0M1360.21,612.9a3.3,3.3 0 1,0 6.6,0a3.3,3.3 0 1,0 -6.6,0M1364.48,612.9a3.3,3.3 0 1,0 6.6,0a3.3,3.3 0 1,0 -6.6,0M1368.75,612.9a3.3,3.3 0 1,0 6.6,0a3.3,3.3 0 1,0 -6.6,0M1373.02,612.9a3.3,3.3 0 1,0 6.6,0a3.3,3.3 0 1,0 -6.6,0M1377.29,612.9a3.3,3.3 0 1,0 6.6,0a3.3,3.3 0 1,0 -6.6,0" fill="#111"/>
<path d="M1035.61,523.8a3.3,3.3 0 1,0 6.6,0a3.3,3.3 0 1,0 -6.6,0M1039.88,523.8a3.3,3.3 0 1,0 6.6,0a3.3,3.3 0 1,0 -6.6,0M1044.15,523.8a3.3,3.3 0 1,0 6.6,0a3.3,3.3 0 1,0 -6.6,0M1048.42,523.8a3.3,3.3 0 1,0 6.6,0a3.3,3.3 0 1,0 -6.6,0M1052.69,523.8a3.3,3.3 0 1,0 6.6,0a3.3,3.3 0 1,0 -6.6,0M1056.96,523.8a3.3,3.3 0 1,0 6.6,0a3.3,3.3 0 1,0 -6.6,0M1061.24,523.8a3.3,3.3 0 1,0 6.6,0a3.3,3.3 0 1,0 -6.6,0M1065.51,523.8a3.3,3.3 0 1,0 6.6,0a3.3,3.3 0 1,0 -6.6,0M1069.78,523.8a3.3,3.3 0 1,0 6.6,0a3.3,3.3 0 1,0 -6.6,0M1074.05,523.8a3.3,3.3 0 1,0 6.6,0a3.3,3.3 0 1,0 -6.6,0M1078.32,523.8a3.3,3.3 0 1,0 6.6,0a3.3,3.3 0 1,0 -6.6,0M1082.59,523.8a3.3,3.3 0 1,0 6.6,0a3.3,3.3 0 1,0 -6.6,0M1086.86,523.8a3.3,3.3 0 1,0 6.6,0a3.3,3.3 0 1,0 -6.6,0M1091.13,523.8a3.3,3.3 0 1,0 6.6,0a3.3,3.3 0 1,0 -6.6,0M1095.4,523.8a3.3,3.3 0 1,0 6.6,0a3.3,3.3 0 1,0 -6.6,0M1099.67,523.8a3.3,3.3 0 1,0 6.6,0a3.3,3.3 0 1,0 -6.6,0M1103.95,523.8a3.3,3.3 0 1,0 6.6,0a3.3,3.3 0 1,0 -6.6,0M1108.22,523.8a3.3,3.3 0 1,0 6.6,0a3.3,3.3 0 1,0 -6.6,0M1112.49,523.8a3.3,3.3 0 1,0 6.6,0a3.3,3.3 0 1,0 -6.6,0M1116.76,523.8a3.3,3.3 0 1,0 6.6,0a3.3,3.3 0 1,0 -6.6,0M1121.03,523.8a3.3,3.3 0 1,0 6.6,0a3.3,3.3 0 1,0 -6.6,0M1125.3,523.8a3.3,3.3 0 1,0 6.6,0a3.3,3.3 0 1,0 -6.6,0M1129.57,523.8a3.3,3.3 0 1,0 6.6,0a3.3,3.3 0 1,0 -6.6,0M1133.84,523.8a3.3,3.3 0 1,0 6.6,0a3.3,3.3 0 1,0 -6.6,0M1138.11,523.8a3.3,3.3 0 1,0 6.6,0a3.3,3.3 0 1,0 -6.6,0M1142.38,523.8a3.3,3.3 0 1,0 6.6,0a3.3,3.3 0 1,0 -6.6,0M1146.66,523.8a3.3,3.3 0 1,0 6.6,0a3.3,3.3 0 1,0 -6.6,0M1150.93,523.8a3.3,3.3 0 1,0 6.6,0a3.3,3.3 0 1,0 -6.6,0M1155.2,523.8a3.3,3.3 0 1,0 6.6,0a3.3,3.3 0 1,0 -6.6,0M1159.47,523.8a3.3,3.3 0 1,0 6.6,0a3.3,3.3 0 1,0 -6.6,0M1163.74,523.8a3.3,3.3 0 1,0 6.6,0a3.3,3.3 0 1,0 -6.6,0M1168.01,523.8a3.3,3.3 0 1,0 6.6,0a3.3,3.3 0 1,0 -6.6,0M1172.28,523.8a3.3,3.3 0 1,0 6.6,0a3.3,3.3 0 1,0 -6.6,0M1176.55,523.8a3.3,3.3 0 1,0 6.6,0a3.3,3.3 0 1,0 -6.6,0M1180.82,523.8a3.3,3.3 0 1,0 6.6,0a3.3,3.3 0 1,0 -6.6,0M1185.1,523.8a3.3,3.3 0 1,0 6.6,0a3.3,3.3 0 1,0 -6.6,0M1189.37,523.8a3.3,3.3 0 1,0 6.6,0a3.3,3.3 0 1,0 -6.6,0M1193.64,523.8a3.3,3.3 0 1,0 6.6,0a3.3,3.3 0 1,0 -6.6,0M1197.91,523.8a3.3,3.3 0 1,0 6.6,0a3.3,3.3 0 1,0 -6.6,0M1202.18,523.8a3.3,3.3 0 1,0 6.6,0a3.3,3.3 0 1,0 -6.6,0M1206.45,523.8a3.3,3.3 0 1,0 6.6,0a3.3,3.3 0 1,0 -6.6,0M1210.72,523.8a3.3,3.3 0 1,0 6.6,0a3.3,3.3 0 1,0 -6.6,0M1214.99,523.8a3.3,3.3 0 1,0 6.6,0a3.3,3.3 0 1,0 -6.6,0M1219.26,523.8a3.3,3.3 0 1,0 6.6,0a3.3,3.3 0 1,0 -6.6,0M1223.53,523.8a3.3,3.3 0 1,0 6.6,0a3.3,3.3 0 1,0 -6.6,0M1227.81,523.8a3.3,3.3 0 1,0 6.6,0a3.3,3.3 0 1,0 -6.6,0M1232.08,523.8a3.3,3.3 0 1,0 6.6,0a3.3,3.3 0 1,0 -6.6,0M1236.35,523.8a3.3,3.3 0 1,0 6.6,0a3.3,3.3 0 1,0 -6.6,0M1240.62,523.8a3.3,3.3 0 1,0 6.6,0a3.3,3.3 0 1,0 -6.6,0M1244.89,523.8a3.3,3.3 0 1,0 6.6,0a3.3,3.3 0 1,0 -6.6,0M1249.16,523.8a3.3,3.3 0 1,0 6.6,0a3.3,3.3 0 1,0 -6.6,0M1253.43,523.8a3.3,3.3 0 1,0 6.6,0a3.3,3.3 0 1,0 -6.6,0M1257.7,523.8a3.3,3.3 0 1,0 6.6,0a3.3,3.3 0 1,0 -6.6,0M1261.97,523.8a3.3,3.3 0 1,0 6.6,0a3.3,3.3 0 1,0 -6.6,0M1266.24,523.8a3.3,3.3 0 1,0 6.6,0a3.3,3.3 0 1,0 -6.6,0M1270.52,523.8a3.3,3.3 0 1,0 6.6,0a3.3,3.3 0 1,0 -6.6,0M1274.79,523.8a3.3,3.3 0 1,0 6.6,0a3.3,3.3 0 1,0 -6.6,0M1279.06,523.8a3.3,3.3 0 1,0 6.6,0a3.3,3.3 0 1,0 -6.6,0M1283.33,523.8a3.3,3.3 0 1,0 6.6,0a3.3,3.3 0 1,0 -6.6,0M1287.6,523.8a3.3,3.3 0 1,0 6.6,0a3.3,3.3 0 1,0 -6.6,0M1291.87,523.8a3.3,3.3 0 1,0 6.6,0a3.3,3.3 0 1,0 -6.6,0M1296.14,523.8a3.3,3.3 0 1,0 6.6,0a3.3,3.3 0 1,0 -6.6,0M1300.41,523.8a3.3,3.3 0 1,0 6.6,0a3.3,3.3 0 1,0 -6.6,0M1304.68,523.8a3.3,3.3 0 1,0 6.6,0a3.3,3.3 0 1,0 -6.6,0M1308.95,523.8a3.3,3.3 0 1,0 6.6,0a3.3,3.3 0 1,0 -6.6,0M1313.23,523.8a3.3,3.3 0 1,0 6.6,0a3.3,3.3 0 1,0 -6.6,0M1317.5,523.8a3.3,3.3 0 1,0 6.6,0a3.3,3.3 0 1,0 -6.6,0" fill="#111"/>
<path d="M1035.61,528.3a3.3,3.3 0 1,0 6.6,0a3.3,3.3 0 1,0 -6.6,0M1039.88,530.05a3.3,3.3 0 1,0 6.6,0a3.3,3.3 0 1,0 -6.6,0M1044.15,531.8a3.3,3.3 0 1,0 6.6,0a3.3,3.3 0 1,0 -6.6,0" fill="#111"/>
<path d="M1321.77,529.1a3.3,3.3 0 1,0 6.6,0a3.3,3.3 0 1,0 -6.6,0M1326.04,531.8a3.3,3.3 0 1,0 6.6,0a3.3,3.3 0 1,0 -6.6,0M1330.31,531.5a3.3,3.3 0 1,0 6.6,0a3.3,3.3 0 1,0 -6.6,0M1334.58,526.5a3.3,3.3 0 1,0 6.6,0a3.3,3.3 0 1,0 -6.6,0M1338.85,526.5a3.3,3.3 0 1,0 6.6,0a3.3,3.3 0 1,0 -6.6,0M1343.12,523.4a3.3,3.3 0 1,0 6.6,0a3.3,3.3 0 1,0 -6.6,0M1347.39,544.3a3.3,3.3 0 1,0 6.6,0a3.3,3.3 0 1,0 -6.6,0M1351.66,547.9a3.3,3.3 0 1,0 6.6,0a3.3,3.3 0 1,0 -6.6,0M1355.94,558.3a3.3,3.3 0 1,0 6.6,0a3.3,3.3 0 1,0 -6.6,0M1360.21,602.4a3.3,3.3 0 1,0 6.6,0a3.3,3.3 0 1,0 -6.6,0M1364.48,603.3a3.3,3.3 0 1,0 6.6,0a3.3,3.3 0 1,0 -6.6,0M1368.75,603.3a3.3,3.3 0 1,0 6.6,0a3.3,3.3 0 1,0 -6.6,0M1373.02,603.3a3.3,3.3 0 1,0 6.6,0a3.3,3.3 0 1,0 -6.6,0M1377.29,596.5a3.3,3.3 0 1,0 6.6,0a3.3,3.3 0 1,0 -6.6,0" fill="#111"/>
<rect x="996.2" y="30.5" width="427.4" height="604.2" fill="none" stroke="#000" stroke-width="1.8"/>
<line x1="1023.8" y1="68" x2="1023.8" y2="149.3" stroke="#000" stroke-width="3.6" />
<line x1="1014.8" y1="68" x2="1033.2" y2="68" stroke="#000" stroke-width="3.4" />
<line x1="1014.8" y1="149.3" x2="1033.2" y2="149.3" stroke="#000" stroke-width="3.4" />
<g transform="matrix(1.0447,0,0,1.0111,1032.66,120.90)"><text x="0" y="0" font-size="28" fill="#000" >2 Ω</text></g>
<g transform="matrix(1.0765,0,0,0.9895,1335.65,102.40)"><text x="0" y="0" font-size="28.5" fill="#1b7d3a" >135 K</text></g>
<g transform="matrix(1.0791,0,0,0.9789,1345.16,222.90)"><text x="0" y="0" font-size="28.5" fill="#f07e1f" >125 K</text></g>
<g transform="matrix(1.0627,0,0,0.9737,1347.31,337.40)"><text x="0" y="0" font-size="28.5" fill="#2f4daa" >120 K</text></g>
<g transform="matrix(1.0940,0,0,1.0263,1346.71,423.70)"><text x="0" y="0" font-size="28.5" fill="#e82222" >115 K</text></g>
<g transform="matrix(1.1075,0,0,0.9895,1280.99,592.60)"><text x="0" y="0" font-size="28.5" fill="#000" >110 K</text></g>
<g transform="matrix(1.1205,0,0,1.0212,940.18,34.85)"><text x="0" y="0" font-size="35" fill="#000" >(d)</text></g>
<g transform="matrix(1.1833,0,0,1.0611,1052.72,671.40)"><text x="0" y="0" font-size="28" fill="#000" >8</text></g>
<rect x="1028.3" y="662.7" width="20.2" height="1.8" fill="#000"/>
<g transform="matrix(1.0857,0,0,1.1444,1138.90,671.40)"><text x="0" y="0" font-size="28" fill="#000" >4</text></g>
<rect x="1113.8" y="662.7" width="20.6" height="1.8" fill="#000"/>
<g transform="matrix(1.2667,0,0,1.0611,1200.93,671.40)"><text x="0" y="0" font-size="28" fill="#000" >0</text></g>
<g transform="matrix(1.0929,0,0,1.1444,1288.50,671.40)"><text x="0" y="0" font-size="28" fill="#000" >4</text></g>
<g transform="matrix(1.2000,0,0,1.0611,1372.80,671.40)"><text x="0" y="0" font-size="28" fill="#000" >8</text></g>
<g transform="matrix(1.2298,0,0,1.0687,1158.90,711.18)"><text x="0" y="0" font-size="34" fill="#000" word-spacing="0.07" ><tspan font-style="italic">I</tspan><tspan font-size="23.8" dy="3.74">p</tspan><tspan dy="-3.74"> (mA)</tspan></text></g>
<g transform="matrix(1.0485,0,0,1.2020,973.86,387.70)"><text x="0" y="0" font-size="34" fill="#000" transform="rotate(-90)" word-spacing="3.09" ><tspan font-style="italic">R</tspan><tspan font-size="23.8" dy="3.74" font-style="italic">xy</tspan><tspan dy="-3.74"> (Ω)</tspan></text></g>
</svg>
</body></html>
